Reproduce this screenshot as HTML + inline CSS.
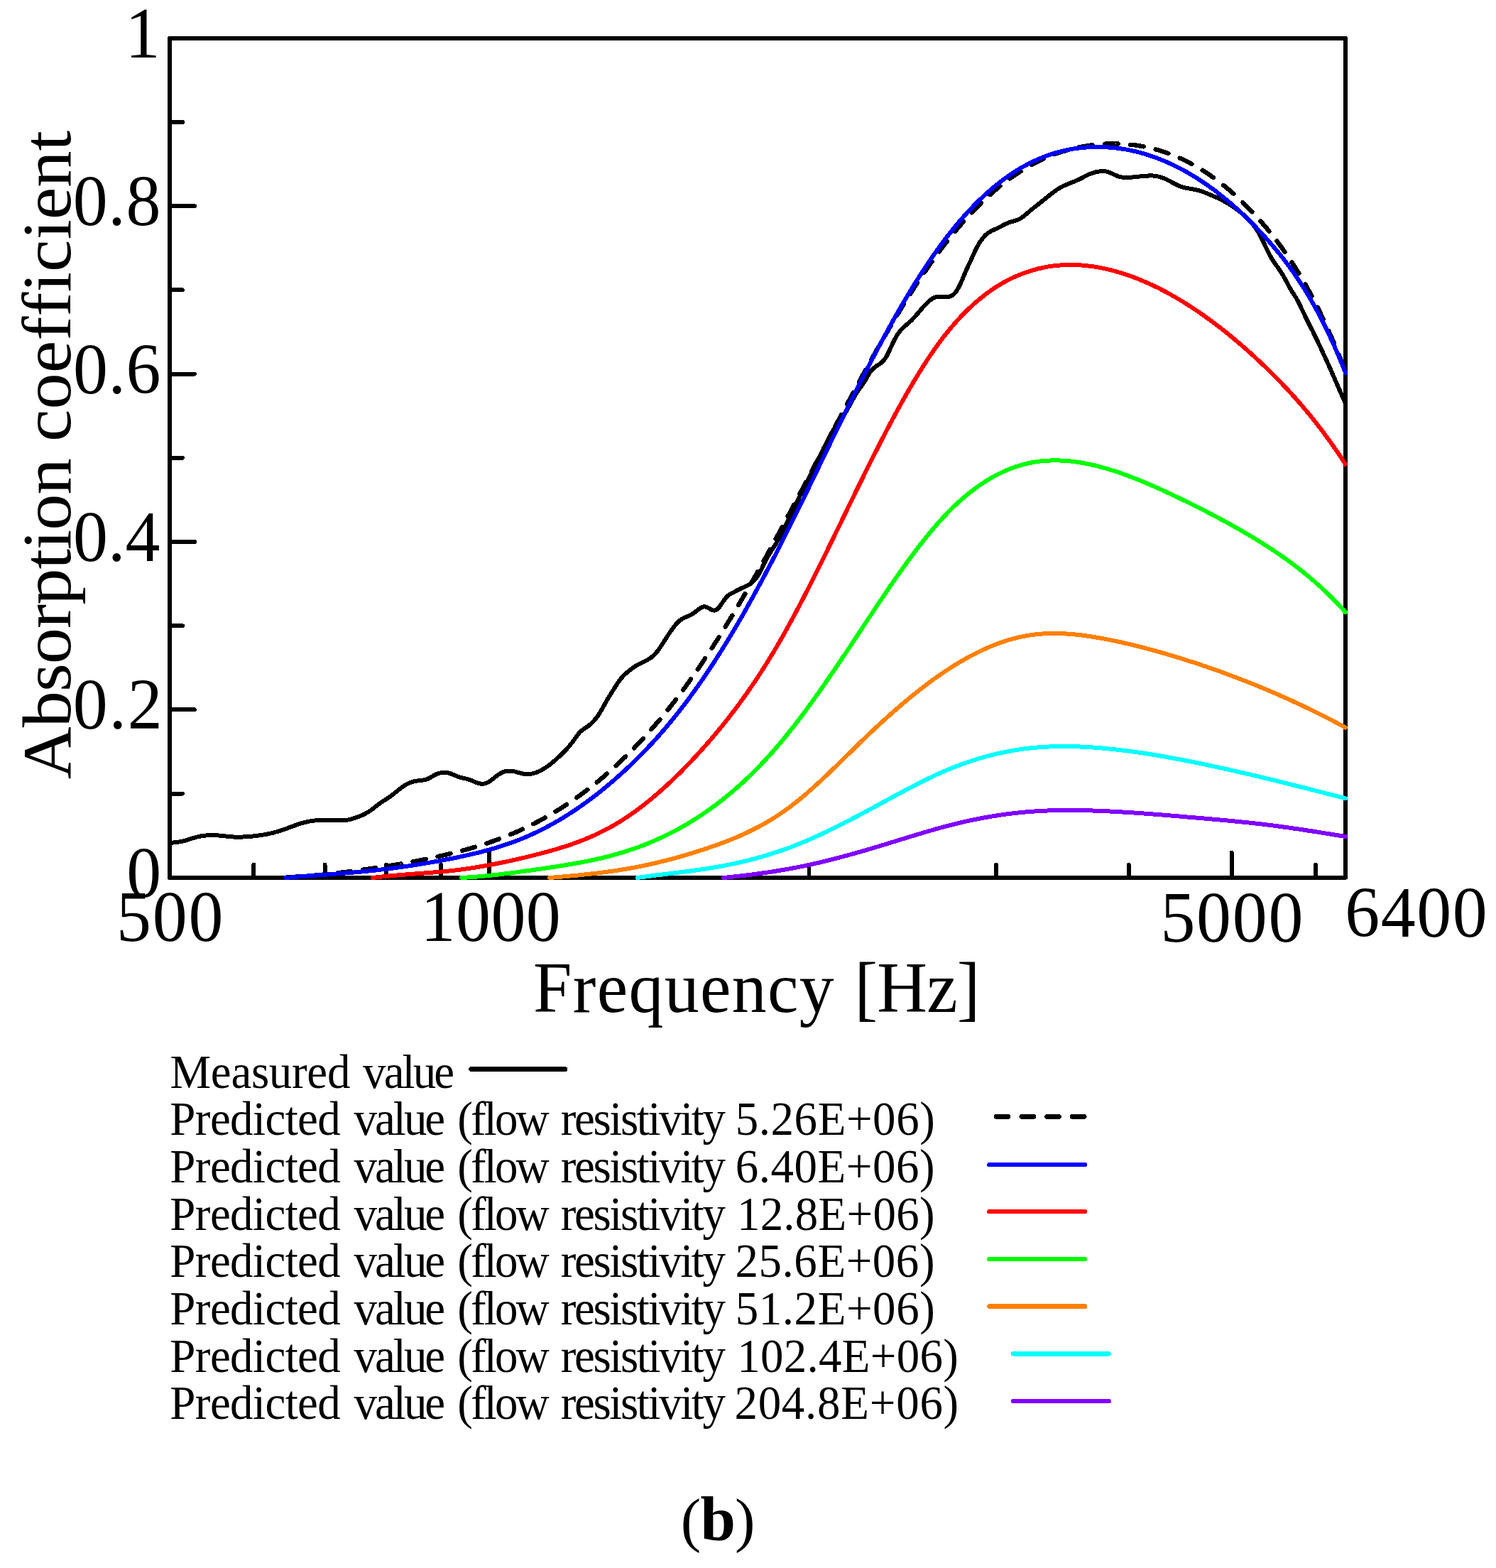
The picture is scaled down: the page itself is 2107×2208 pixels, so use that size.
<!DOCTYPE html>
<html lang="en"><head><meta charset="utf-8"><title>Absorption coefficient vs frequency (b)</title>
<style>html,body{margin:0;padding:0;background:#fff}body{width:2107px;height:2208px;overflow:hidden}svg{display:block}text{font-family:"Liberation Serif","Times New Roman",Times,serif;fill:#000;font-kerning:none;font-variant-ligatures:none;white-space:pre}.c{fill:none;stroke-linecap:round;stroke-linejoin:round;shape-rendering:crispEdges}</style></head><body>
<svg width="2107" height="2208" viewBox="0 0 2107 2208">
<rect width="2107" height="2208" fill="#fff"/>
<g class="c" stroke="#000" stroke-width="6.10">
<rect x="239.00" y="53.80" width="1656.00" height="1181.95"/>
<path stroke-width="5.90" d="M239.00 1117.56h18.00M239.00 999.36h35.00M239.00 881.16h18.00M239.00 762.97h35.00M239.00 644.77h18.00M239.00 526.58h35.00M239.00 408.38h18.00M239.00 290.19h35.00M239.00 171.99h18.00M357.43 1235.75v-18.00M457.56 1235.75v-18.00M544.29 1235.75v-18.00M620.80 1235.75v-18.00M689.24 1235.75v-35.00M1139.47 1235.75v-18.00M1402.84 1235.75v-18.00M1589.71 1235.75v-18.00M1734.65 1235.75v-35.00M1853.08 1235.75v-18.00"/>
</g>
<g class="c">
<path stroke="#000" stroke-width="6.00" d="M239.0 1188.0 L240.5 1187.4 L242.0 1187.0 L243.5 1186.6 L245.0 1186.3 L246.5 1186.1 L248.0 1185.9 L249.5 1185.7 L251.0 1185.6 L252.5 1185.4 L254.0 1185.2 L255.5 1184.9 L257.0 1184.6 L258.5 1184.3 L260.0 1183.9 L261.5 1183.4 L263.0 1183.0 L264.5 1182.5 L266.0 1182.1 L267.5 1181.6 L269.0 1181.1 L270.5 1180.6 L272.0 1180.2 L273.5 1179.7 L275.0 1179.3 L276.5 1178.9 L278.0 1178.5 L279.5 1178.2 L281.0 1177.8 L282.5 1177.5 L284.0 1177.3 L285.5 1177.0 L287.0 1176.8 L288.5 1176.6 L290.0 1176.5 L291.5 1176.3 L293.0 1176.2 L294.5 1176.1 L296.0 1176.1 L297.5 1176.1 L299.0 1176.0 L300.5 1176.1 L302.0 1176.1 L303.5 1176.2 L305.0 1176.2 L306.5 1176.4 L308.0 1176.5 L309.5 1176.6 L311.0 1176.8 L312.5 1176.9 L314.0 1177.1 L315.5 1177.3 L317.0 1177.4 L318.5 1177.6 L320.0 1177.8 L321.5 1177.9 L323.0 1178.1 L324.5 1178.2 L326.0 1178.3 L327.5 1178.4 L329.0 1178.5 L330.5 1178.6 L332.0 1178.6 L333.5 1178.6 L335.0 1178.7 L336.5 1178.6 L338.0 1178.6 L339.5 1178.6 L341.0 1178.6 L342.5 1178.5 L344.0 1178.4 L345.5 1178.3 L347.0 1178.2 L348.5 1178.1 L350.0 1178.0 L351.5 1177.9 L353.0 1177.8 L354.5 1177.6 L356.0 1177.5 L357.5 1177.3 L359.0 1177.1 L360.5 1176.9 L362.0 1176.8 L363.5 1176.6 L365.0 1176.4 L366.5 1176.2 L368.0 1175.9 L369.5 1175.7 L371.0 1175.5 L372.5 1175.2 L374.0 1174.9 L375.5 1174.7 L377.0 1174.4 L378.5 1174.1 L380.0 1173.8 L381.5 1173.4 L383.0 1173.1 L384.5 1172.7 L386.0 1172.3 L387.5 1171.9 L389.0 1171.5 L390.5 1171.1 L392.0 1170.6 L393.5 1170.1 L395.0 1169.7 L396.5 1169.2 L398.0 1168.7 L399.5 1168.2 L401.0 1167.6 L402.5 1167.1 L404.0 1166.6 L405.5 1166.0 L407.0 1165.5 L408.5 1164.9 L410.0 1164.3 L411.5 1163.8 L413.0 1163.2 L414.5 1162.7 L416.0 1162.1 L417.5 1161.6 L419.0 1161.1 L420.5 1160.6 L422.0 1160.1 L423.5 1159.6 L425.0 1159.2 L426.5 1158.8 L428.0 1158.3 L429.5 1158.0 L431.0 1157.6 L432.5 1157.2 L434.0 1156.9 L435.5 1156.6 L437.0 1156.3 L438.5 1156.1 L440.0 1155.9 L441.5 1155.7 L443.0 1155.5 L444.5 1155.3 L446.0 1155.2 L447.5 1155.1 L449.0 1155.0 L450.5 1154.9 L452.0 1154.8 L453.5 1154.8 L455.0 1154.8 L456.5 1154.7 L458.0 1154.7 L459.5 1154.8 L461.0 1154.8 L462.5 1154.8 L464.0 1154.9 L465.5 1154.9 L467.0 1155.0 L468.5 1155.0 L470.0 1155.1 L471.5 1155.1 L473.0 1155.2 L474.5 1155.2 L476.0 1155.3 L477.5 1155.3 L479.0 1155.3 L480.5 1155.3 L482.0 1155.3 L483.5 1155.2 L485.0 1155.1 L486.5 1155.0 L488.0 1154.8 L489.5 1154.6 L491.0 1154.3 L492.5 1154.0 L494.0 1153.7 L495.5 1153.3 L497.0 1152.8 L498.5 1152.3 L500.0 1151.8 L501.5 1151.3 L503.0 1150.8 L504.5 1150.2 L506.0 1149.6 L507.5 1149.0 L509.0 1148.4 L510.5 1147.7 L512.0 1147.0 L513.5 1146.3 L515.0 1145.5 L516.5 1144.6 L518.0 1143.8 L519.5 1142.8 L521.0 1141.8 L522.5 1140.8 L524.0 1139.7 L525.5 1138.5 L527.0 1137.4 L528.5 1136.2 L530.0 1135.0 L531.5 1133.9 L533.0 1132.7 L534.5 1131.6 L536.0 1130.5 L537.5 1129.5 L539.0 1128.5 L540.5 1127.5 L542.0 1126.6 L543.5 1125.6 L545.0 1124.7 L546.5 1123.7 L548.0 1122.7 L549.5 1121.6 L551.0 1120.5 L552.5 1119.4 L554.0 1118.2 L555.5 1117.0 L557.0 1115.8 L558.5 1114.6 L560.0 1113.4 L561.5 1112.2 L563.0 1111.0 L564.5 1109.9 L566.0 1108.8 L567.5 1107.7 L569.0 1106.7 L570.5 1105.8 L572.0 1104.9 L573.5 1104.1 L575.0 1103.3 L576.5 1102.6 L578.0 1102.0 L579.5 1101.4 L581.0 1100.9 L582.5 1100.5 L584.0 1100.2 L585.5 1099.9 L587.0 1099.6 L588.5 1099.4 L590.0 1099.2 L591.5 1099.1 L593.0 1098.9 L594.5 1098.7 L596.0 1098.5 L597.5 1098.2 L599.0 1097.9 L600.5 1097.5 L602.0 1097.0 L603.5 1096.3 L605.0 1095.6 L606.5 1094.7 L608.0 1093.8 L609.5 1092.9 L611.0 1092.1 L612.5 1091.2 L614.0 1090.5 L615.5 1089.8 L617.0 1089.2 L618.5 1088.8 L620.0 1088.5 L621.5 1088.2 L623.0 1088.1 L624.5 1088.0 L626.0 1087.9 L627.5 1088.0 L629.0 1088.1 L630.5 1088.3 L632.0 1088.6 L633.5 1089.0 L635.0 1089.5 L636.5 1090.1 L638.0 1090.7 L639.5 1091.3 L641.0 1092.0 L642.5 1092.6 L644.0 1093.2 L645.5 1093.8 L647.0 1094.3 L648.5 1094.8 L650.0 1095.2 L651.5 1095.5 L653.0 1095.8 L654.5 1096.1 L656.0 1096.5 L657.5 1096.8 L659.0 1097.2 L660.5 1097.7 L662.0 1098.2 L663.5 1098.8 L665.0 1099.4 L666.5 1100.1 L668.0 1100.7 L669.5 1101.4 L671.0 1102.0 L672.5 1102.5 L674.0 1103.0 L675.5 1103.3 L677.0 1103.6 L678.5 1103.8 L680.0 1103.8 L681.5 1103.6 L683.0 1103.3 L684.5 1102.8 L686.0 1102.2 L687.5 1101.5 L689.0 1100.6 L690.5 1099.7 L692.0 1098.6 L693.5 1097.4 L695.0 1096.2 L696.5 1095.0 L698.0 1093.8 L699.5 1092.6 L701.0 1091.5 L702.5 1090.5 L704.0 1089.6 L705.5 1088.8 L707.0 1088.0 L708.5 1087.3 L710.0 1086.8 L711.5 1086.3 L713.0 1085.9 L714.5 1085.7 L716.0 1085.5 L717.5 1085.5 L719.0 1085.5 L720.5 1085.7 L722.0 1085.9 L723.5 1086.1 L725.0 1086.5 L726.5 1086.9 L728.0 1087.3 L729.5 1087.7 L731.0 1088.1 L732.5 1088.6 L734.0 1088.9 L735.5 1089.3 L737.0 1089.6 L738.5 1089.8 L740.0 1090.0 L741.5 1090.1 L743.0 1090.1 L744.5 1090.0 L746.0 1089.9 L747.5 1089.7 L749.0 1089.5 L750.5 1089.2 L752.0 1088.8 L753.5 1088.4 L755.0 1087.9 L756.5 1087.3 L758.0 1086.7 L759.5 1086.0 L761.0 1085.3 L762.5 1084.5 L764.0 1083.7 L765.5 1082.8 L767.0 1081.9 L768.5 1080.9 L770.0 1079.9 L771.5 1078.9 L773.0 1077.8 L774.5 1076.6 L776.0 1075.4 L777.5 1074.2 L779.0 1072.9 L780.5 1071.7 L782.0 1070.3 L783.5 1069.0 L785.0 1067.6 L786.5 1066.2 L788.0 1064.9 L789.5 1063.4 L791.0 1062.0 L792.5 1060.5 L794.0 1059.0 L795.5 1057.5 L797.0 1055.9 L798.5 1054.3 L800.0 1052.6 L801.5 1050.9 L803.0 1049.1 L804.5 1047.2 L806.0 1045.3 L807.5 1043.3 L809.0 1041.2 L810.5 1039.1 L812.0 1037.0 L813.5 1034.9 L815.0 1033.0 L816.5 1031.2 L818.0 1029.8 L819.5 1028.5 L821.0 1027.4 L822.5 1026.3 L824.0 1025.4 L825.5 1024.4 L827.0 1023.4 L828.5 1022.3 L830.0 1021.1 L831.5 1019.8 L833.0 1018.5 L834.5 1017.0 L836.0 1015.4 L837.5 1013.8 L839.0 1012.0 L840.5 1010.1 L842.0 1008.0 L843.5 1005.8 L845.0 1003.4 L846.5 1000.9 L848.0 998.3 L849.5 995.6 L851.0 992.9 L852.5 990.2 L854.0 987.5 L855.5 984.9 L857.0 982.4 L858.5 980.0 L860.0 977.6 L861.5 975.2 L863.0 972.8 L864.5 970.5 L866.0 968.1 L867.5 965.7 L869.0 963.3 L870.5 961.1 L872.0 958.9 L873.5 956.9 L875.0 955.0 L876.5 953.3 L878.0 951.7 L879.5 950.2 L881.0 948.8 L882.5 947.5 L884.0 946.2 L885.5 945.0 L887.0 943.8 L888.5 942.6 L890.0 941.5 L891.5 940.4 L893.0 939.4 L894.5 938.4 L896.0 937.5 L897.5 936.6 L899.0 935.8 L900.5 935.0 L902.0 934.2 L903.5 933.5 L905.0 932.7 L906.5 932.0 L908.0 931.3 L909.5 930.5 L911.0 929.7 L912.5 928.9 L914.0 927.9 L915.5 927.0 L917.0 925.9 L918.5 924.7 L920.0 923.4 L921.5 922.0 L923.0 920.4 L924.5 918.7 L926.0 916.9 L927.5 914.9 L929.0 912.8 L930.5 910.6 L932.0 908.3 L933.5 906.0 L935.0 903.6 L936.5 901.2 L938.0 898.9 L939.5 896.6 L941.0 894.3 L942.5 892.0 L944.0 889.8 L945.5 887.7 L947.0 885.6 L948.5 883.5 L950.0 881.6 L951.5 879.7 L953.0 878.0 L954.5 876.4 L956.0 874.9 L957.5 873.7 L959.0 872.6 L960.5 871.6 L962.0 870.8 L963.5 870.1 L965.0 869.4 L966.5 868.8 L968.0 868.1 L969.5 867.5 L971.0 866.8 L972.5 866.1 L974.0 865.3 L975.5 864.4 L977.0 863.4 L978.5 862.3 L980.0 861.1 L981.5 859.9 L983.0 858.7 L984.5 857.6 L986.0 856.6 L987.5 855.7 L989.0 855.0 L990.5 854.5 L992.0 854.3 L993.5 854.4 L995.0 854.8 L996.5 855.4 L998.0 856.2 L999.5 857.1 L1001.0 858.0 L1002.5 858.7 L1004.0 859.3 L1005.5 859.6 L1007.0 859.5 L1008.5 859.0 L1010.0 858.1 L1011.5 856.7 L1013.0 854.9 L1014.5 852.9 L1016.0 850.7 L1017.5 848.5 L1019.0 846.3 L1020.5 844.2 L1022.0 842.3 L1023.5 840.5 L1025.0 839.1 L1026.5 837.9 L1028.0 836.9 L1029.5 836.0 L1031.0 835.3 L1032.5 834.5 L1034.0 833.7 L1035.5 832.9 L1037.0 832.1 L1038.5 831.3 L1040.0 830.5 L1041.5 829.7 L1043.0 829.0 L1044.5 828.3 L1046.0 827.6 L1047.5 826.9 L1049.0 826.3 L1050.5 825.6 L1052.0 824.9 L1053.5 824.1 L1055.0 823.2 L1056.5 822.3 L1058.0 821.2 L1059.5 820.0 L1061.0 818.6 L1062.5 817.1 L1064.0 815.4 L1065.5 813.5 L1067.0 811.3 L1068.5 808.9 L1070.0 806.2 L1071.5 803.3 L1073.0 800.3 L1074.5 797.1 L1076.0 794.0 L1077.5 791.0 L1079.0 788.1 L1080.5 785.4 L1082.0 782.8 L1083.5 780.3 L1085.0 777.9 L1086.5 775.6 L1088.0 773.2 L1089.5 770.9 L1091.0 768.5 L1092.5 766.1 L1094.0 763.5 L1095.5 760.9 L1097.0 758.1 L1098.5 755.3 L1100.0 752.4 L1101.5 749.4 L1103.0 746.4 L1104.5 743.4 L1106.0 740.4 L1107.5 737.3 L1109.0 734.3 L1110.5 731.3 L1112.0 728.2 L1113.5 725.2 L1115.0 722.2 L1116.5 719.1 L1118.0 716.1 L1119.5 713.0 L1121.0 710.0 L1122.5 706.9 L1124.0 703.9 L1125.5 700.8 L1127.0 697.7 L1128.5 694.6 L1130.0 691.6 L1131.5 688.5 L1133.0 685.5 L1134.5 682.4 L1136.0 679.4 L1137.5 676.3 L1139.0 673.3 L1140.5 670.3 L1142.0 667.3 L1143.5 664.3 L1145.0 661.3 L1146.5 658.4 L1148.0 655.4 L1149.5 652.4 L1151.0 649.5 L1152.5 646.5 L1154.0 643.5 L1155.5 640.5 L1157.0 637.5 L1158.5 634.5 L1160.0 631.5 L1161.5 628.4 L1163.0 625.4 L1164.5 622.3 L1166.0 619.4 L1167.5 616.4 L1169.0 613.6 L1170.5 610.9 L1172.0 608.3 L1173.5 605.9 L1175.0 603.6 L1176.5 601.4 L1178.0 599.3 L1179.5 597.2 L1181.0 595.2 L1182.5 593.2 L1184.0 591.2 L1185.5 589.1 L1187.0 586.9 L1188.5 584.7 L1190.0 582.3 L1191.5 579.8 L1193.0 577.2 L1194.5 574.6 L1196.0 571.9 L1197.5 569.1 L1199.0 566.4 L1200.5 563.7 L1202.0 561.0 L1203.5 558.4 L1205.0 555.8 L1206.5 553.4 L1208.0 551.1 L1209.5 548.9 L1211.0 546.8 L1212.5 544.7 L1214.0 542.7 L1215.5 540.5 L1217.0 538.2 L1218.5 535.8 L1220.0 533.2 L1221.5 530.6 L1223.0 527.9 L1224.5 525.5 L1226.0 523.3 L1227.5 521.5 L1229.0 519.9 L1230.5 518.5 L1232.0 517.3 L1233.5 516.2 L1235.0 515.1 L1236.5 514.2 L1238.0 513.2 L1239.5 512.1 L1241.0 511.0 L1242.5 509.7 L1244.0 508.1 L1245.5 506.4 L1247.0 504.3 L1248.5 501.8 L1250.0 499.1 L1251.5 496.0 L1253.0 492.9 L1254.5 489.6 L1256.0 486.3 L1257.5 483.1 L1259.0 480.0 L1260.5 477.1 L1262.0 474.4 L1263.5 471.9 L1265.0 469.6 L1266.5 467.6 L1268.0 465.7 L1269.5 464.0 L1271.0 462.5 L1272.5 461.0 L1274.0 459.7 L1275.5 458.3 L1277.0 457.1 L1278.5 455.8 L1280.0 454.5 L1281.5 453.2 L1283.0 451.8 L1284.5 450.3 L1286.0 448.7 L1287.5 447.1 L1289.0 445.5 L1290.5 443.8 L1292.0 442.0 L1293.5 440.3 L1295.0 438.5 L1296.5 436.7 L1298.0 435.0 L1299.5 433.2 L1301.0 431.5 L1302.5 429.9 L1304.0 428.3 L1305.5 426.8 L1307.0 425.3 L1308.5 424.0 L1310.0 422.8 L1311.5 421.7 L1313.0 420.7 L1314.5 419.8 L1316.0 419.1 L1317.5 418.5 L1319.0 418.1 L1320.5 417.7 L1322.0 417.5 L1323.5 417.5 L1325.0 417.5 L1326.5 417.6 L1328.0 417.7 L1329.5 417.8 L1331.0 418.0 L1332.5 418.0 L1334.0 418.0 L1335.5 417.9 L1337.0 417.6 L1338.5 417.2 L1340.0 416.5 L1341.5 415.7 L1343.0 414.5 L1344.5 413.1 L1346.0 411.3 L1347.5 409.2 L1349.0 406.8 L1350.5 404.0 L1352.0 401.1 L1353.5 397.8 L1355.0 394.4 L1356.5 390.8 L1358.0 387.2 L1359.5 383.7 L1361.0 380.2 L1362.5 376.9 L1364.0 373.7 L1365.5 370.5 L1367.0 367.3 L1368.5 364.1 L1370.0 360.7 L1371.5 357.4 L1373.0 354.1 L1374.5 351.0 L1376.0 348.1 L1377.5 345.3 L1379.0 342.7 L1380.5 340.4 L1382.0 338.2 L1383.5 336.2 L1385.0 334.4 L1386.5 332.7 L1388.0 331.2 L1389.5 329.8 L1391.0 328.6 L1392.5 327.5 L1394.0 326.5 L1395.5 325.7 L1397.0 324.9 L1398.5 324.2 L1400.0 323.5 L1401.5 322.8 L1403.0 322.2 L1404.5 321.5 L1406.0 320.8 L1407.5 320.0 L1409.0 319.2 L1410.5 318.4 L1412.0 317.6 L1413.5 316.8 L1415.0 316.0 L1416.5 315.3 L1418.0 314.6 L1419.5 313.9 L1421.0 313.4 L1422.5 312.9 L1424.0 312.4 L1425.5 312.0 L1427.0 311.6 L1428.5 311.2 L1430.0 310.7 L1431.5 310.2 L1433.0 309.7 L1434.5 309.0 L1436.0 308.3 L1437.5 307.5 L1439.0 306.5 L1440.5 305.5 L1442.0 304.3 L1443.5 303.1 L1445.0 301.8 L1446.5 300.5 L1448.0 299.2 L1449.5 297.9 L1451.0 296.7 L1452.5 295.4 L1454.0 294.2 L1455.5 293.0 L1457.0 291.8 L1458.5 290.6 L1460.0 289.5 L1461.5 288.3 L1463.0 287.1 L1464.5 285.9 L1466.0 284.7 L1467.5 283.5 L1469.0 282.3 L1470.5 281.1 L1472.0 279.9 L1473.5 278.7 L1475.0 277.5 L1476.5 276.3 L1478.0 275.1 L1479.5 273.9 L1481.0 272.7 L1482.5 271.5 L1484.0 270.4 L1485.5 269.3 L1487.0 268.2 L1488.5 267.2 L1490.0 266.2 L1491.5 265.3 L1493.0 264.5 L1494.5 263.6 L1496.0 262.8 L1497.5 262.1 L1499.0 261.4 L1500.5 260.7 L1502.0 260.0 L1503.5 259.4 L1505.0 258.8 L1506.5 258.1 L1508.0 257.5 L1509.5 257.0 L1511.0 256.4 L1512.5 255.8 L1514.0 255.2 L1515.5 254.5 L1517.0 253.9 L1518.5 253.2 L1520.0 252.5 L1521.5 251.8 L1523.0 251.0 L1524.5 250.2 L1526.0 249.4 L1527.5 248.6 L1529.0 247.8 L1530.5 247.1 L1532.0 246.3 L1533.5 245.6 L1535.0 245.0 L1536.5 244.4 L1538.0 243.9 L1539.5 243.4 L1541.0 243.0 L1542.5 242.6 L1544.0 242.2 L1545.5 241.9 L1547.0 241.6 L1548.5 241.4 L1550.0 241.2 L1551.5 241.1 L1553.0 241.1 L1554.5 241.1 L1556.0 241.2 L1557.5 241.4 L1559.0 241.7 L1560.5 242.2 L1562.0 242.7 L1563.5 243.3 L1565.0 243.9 L1566.5 244.6 L1568.0 245.3 L1569.5 246.0 L1571.0 246.7 L1572.5 247.3 L1574.0 247.9 L1575.5 248.4 L1577.0 248.8 L1578.5 249.2 L1580.0 249.5 L1581.5 249.7 L1583.0 249.9 L1584.5 250.0 L1586.0 250.0 L1587.5 250.0 L1589.0 250.0 L1590.5 249.9 L1592.0 249.8 L1593.5 249.6 L1595.0 249.5 L1596.5 249.4 L1598.0 249.2 L1599.5 249.1 L1601.0 248.9 L1602.5 248.7 L1604.0 248.6 L1605.5 248.4 L1607.0 248.3 L1608.5 248.1 L1610.0 248.0 L1611.5 247.9 L1613.0 247.7 L1614.5 247.6 L1616.0 247.5 L1617.5 247.5 L1619.0 247.4 L1620.5 247.4 L1622.0 247.4 L1623.5 247.5 L1625.0 247.6 L1626.5 247.7 L1628.0 247.9 L1629.5 248.2 L1631.0 248.5 L1632.5 248.8 L1634.0 249.2 L1635.5 249.7 L1637.0 250.2 L1638.5 250.8 L1640.0 251.4 L1641.5 252.1 L1643.0 252.8 L1644.5 253.5 L1646.0 254.3 L1647.5 255.0 L1649.0 255.9 L1650.5 256.7 L1652.0 257.5 L1653.5 258.3 L1655.0 259.1 L1656.5 259.8 L1658.0 260.6 L1659.5 261.3 L1661.0 261.9 L1662.5 262.5 L1664.0 263.0 L1665.5 263.5 L1667.0 263.9 L1668.5 264.3 L1670.0 264.6 L1671.5 264.9 L1673.0 265.2 L1674.5 265.4 L1676.0 265.7 L1677.5 265.9 L1679.0 266.2 L1680.5 266.5 L1682.0 266.7 L1683.5 267.0 L1685.0 267.4 L1686.5 267.7 L1688.0 268.1 L1689.5 268.6 L1691.0 269.0 L1692.5 269.5 L1694.0 270.1 L1695.5 270.6 L1697.0 271.2 L1698.5 271.8 L1700.0 272.4 L1701.5 273.0 L1703.0 273.7 L1704.5 274.3 L1706.0 274.9 L1707.5 275.6 L1709.0 276.2 L1710.5 276.8 L1712.0 277.5 L1713.5 278.2 L1715.0 278.8 L1716.5 279.5 L1718.0 280.3 L1719.5 281.0 L1721.0 281.8 L1722.5 282.5 L1724.0 283.4 L1725.5 284.2 L1727.0 285.0 L1728.5 285.9 L1730.0 286.8 L1731.5 287.8 L1733.0 288.7 L1734.5 289.7 L1736.0 290.7 L1737.5 291.7 L1739.0 292.7 L1740.5 293.8 L1742.0 294.9 L1743.5 296.0 L1745.0 297.1 L1746.5 298.3 L1748.0 299.6 L1749.5 300.8 L1751.0 302.1 L1752.5 303.5 L1754.0 304.9 L1755.5 306.3 L1757.0 307.8 L1758.5 309.3 L1760.0 310.9 L1761.5 312.6 L1763.0 314.3 L1764.5 316.1 L1766.0 318.0 L1767.5 320.0 L1769.0 322.1 L1770.5 324.3 L1772.0 326.7 L1773.5 329.2 L1775.0 332.0 L1776.5 334.8 L1778.0 337.9 L1779.5 340.9 L1781.0 344.1 L1782.5 347.3 L1784.0 350.4 L1785.5 353.5 L1787.0 356.5 L1788.5 359.4 L1790.0 362.1 L1791.5 364.7 L1793.0 367.1 L1794.5 369.3 L1796.0 371.5 L1797.5 373.6 L1799.0 375.7 L1800.5 377.8 L1802.0 380.0 L1803.5 382.2 L1805.0 384.5 L1806.5 386.9 L1808.0 389.5 L1809.5 392.2 L1811.0 395.0 L1812.5 397.7 L1814.0 400.5 L1815.5 403.3 L1817.0 406.0 L1818.5 408.6 L1820.0 411.1 L1821.5 413.4 L1823.0 415.6 L1824.5 417.9 L1826.0 420.4 L1827.5 423.1 L1829.0 426.0 L1830.5 429.0 L1832.0 432.1 L1833.5 435.3 L1835.0 438.5 L1836.5 441.6 L1838.0 444.8 L1839.5 447.9 L1841.0 450.9 L1842.5 453.9 L1844.0 456.9 L1845.5 459.8 L1847.0 462.8 L1848.5 465.7 L1850.0 468.8 L1851.5 471.8 L1853.0 474.9 L1854.5 478.0 L1856.0 481.1 L1857.5 484.3 L1859.0 487.5 L1860.5 490.7 L1862.0 493.9 L1863.5 497.2 L1865.0 500.4 L1866.5 503.7 L1868.0 506.9 L1869.5 510.2 L1871.0 513.5 L1872.5 516.9 L1874.0 520.2 L1875.5 523.6 L1877.0 527.1 L1878.5 530.5 L1880.0 534.0 L1881.5 537.4 L1883.0 540.9 L1884.5 544.4 L1886.0 547.8 L1887.5 551.2 L1889.0 554.7 L1890.5 558.1 L1892.0 561.4 L1893.5 564.7 L1895.0 568.0"/>
<path stroke="#000" stroke-width="6.40" d="M376.0 1235.8 L376.5 1235.8 L379.5 1235.8 L382.5 1235.8 L385.5 1235.8 L386.8 1235.8M404.0 1235.4 L404.5 1235.3 L407.5 1235.2 L410.5 1235.1 L413.5 1234.9 L416.5 1234.7 L419.5 1234.5 L422.5 1234.3 L422.6 1234.3M439.8 1233.0 L440.0 1233.0 L443.0 1232.7 L446.0 1232.4 L449.0 1232.2 L452.0 1231.9 L455.0 1231.6 L458.0 1231.3 L458.3 1231.2M475.4 1229.3 L475.5 1229.3 L478.5 1229.0 L481.5 1228.6 L484.5 1228.2 L487.5 1227.9 L490.5 1227.5 L493.5 1227.1 L493.8 1227.1M510.9 1224.8 L511.0 1224.8 L514.0 1224.4 L517.0 1223.9 L520.0 1223.5 L523.0 1223.1 L526.0 1222.6 L529.0 1222.2 L529.3 1222.2M546.3 1219.5 L546.5 1219.5 L549.5 1219.0 L552.5 1218.5 L555.5 1218.0 L558.5 1217.5 L561.5 1217.0 L564.5 1216.5 L564.6 1216.4M581.5 1213.4 L581.5 1213.4 L584.5 1212.8 L587.5 1212.2 L590.5 1211.6 L593.5 1211.0 L596.5 1210.4 L599.5 1209.8 L599.7 1209.8M616.5 1206.2 L617.0 1206.1 L620.0 1205.4 L623.0 1204.8 L626.0 1204.1 L629.0 1203.4 L632.0 1202.6 L634.6 1202.0M651.2 1197.8 L651.5 1197.7 L654.5 1196.9 L657.5 1196.1 L660.5 1195.2 L663.5 1194.4 L666.5 1193.5 L669.1 1192.7M685.5 1187.6 L685.5 1187.6 L688.5 1186.6 L691.5 1185.5 L694.5 1184.5 L697.5 1183.4 L700.5 1182.3 L703.0 1181.4M718.9 1175.1 L719.0 1175.1 L722.0 1173.8 L725.0 1172.6 L728.0 1171.3 L731.0 1169.9 L734.0 1168.6 L735.9 1167.7M751.3 1160.2 L751.5 1160.1 L754.5 1158.6 L757.5 1157.0 L760.5 1155.4 L763.5 1153.8 L766.5 1152.1 L767.7 1151.4M782.5 1142.8 L782.5 1142.8 L785.5 1140.9 L788.5 1139.1 L791.5 1137.2 L794.5 1135.2 L797.5 1133.3 L798.2 1132.8M812.3 1123.2 L812.5 1123.0 L815.5 1120.9 L818.5 1118.7 L821.5 1116.5 L824.5 1114.2 L827.3 1112.1M840.7 1101.5 L841.0 1101.3 L844.0 1098.8 L847.0 1096.3 L850.0 1093.8 L853.0 1091.2 L854.9 1089.6M867.6 1078.2 L868.0 1077.8 L871.0 1075.1 L874.0 1072.2 L877.0 1069.4 L880.0 1066.5 L881.1 1065.4M893.2 1053.3 L893.5 1053.0 L896.5 1049.9 L899.5 1046.7 L902.5 1043.6 L905.5 1040.3 L906.0 1039.8M917.4 1027.1 L917.5 1027.0 L920.5 1023.6 L923.5 1020.1 L926.5 1016.6 L929.5 1013.0 L929.5 1013.0M940.4 999.8 L940.5 999.6 L943.5 995.9 L946.5 992.1 L949.5 988.2 L951.9 985.1M962.1 971.5 L962.5 971.0 L965.5 966.9 L968.5 962.8 L971.5 958.6 L973.0 956.4M982.8 942.4 L983.0 942.2 L986.0 937.8 L989.0 933.3 L992.0 928.9 L993.2 927.0M1002.6 912.7 L1003.0 912.1 L1006.0 907.5 L1009.0 902.8 L1012.0 898.1 L1012.6 897.1M1021.7 882.6 L1022.0 882.0 L1025.0 877.1 L1028.0 872.2 L1031.0 867.3 L1031.4 866.7M1040.1 852.0 L1040.5 851.4 L1043.5 846.3 L1046.5 841.2 L1049.5 836.0 L1049.5 836.0M1058.1 821.2 L1058.5 820.4 L1061.5 815.1 L1064.5 809.8 L1067.2 805.0M1075.6 790.1 L1076.0 789.3 L1079.0 783.9 L1082.0 778.4 L1084.5 773.8M1092.7 758.7 L1093.0 758.2 L1096.0 752.7 L1099.0 747.1 L1101.6 742.4M1109.6 727.3 L1110.0 726.6 L1113.0 720.9 L1116.0 715.3 L1118.4 710.8M1126.4 695.7 L1126.5 695.4 L1129.5 689.7 L1132.5 684.0 L1135.0 679.2M1143.0 664.1 L1143.0 664.0 L1146.0 658.3 L1149.0 652.6 L1151.6 647.6M1159.6 632.4 L1160.0 631.6 L1163.0 625.9 L1166.0 620.2 L1168.2 615.9M1176.3 600.7 L1176.5 600.3 L1179.5 594.6 L1182.5 588.9 L1185.0 584.3M1193.0 569.1 L1193.5 568.3 L1196.5 562.7 L1199.5 557.1 L1201.8 552.7M1210.0 537.6 L1210.5 536.8 L1213.5 531.3 L1216.5 525.8 L1219.0 521.3M1227.3 506.3 L1227.5 505.9 L1230.5 500.6 L1233.5 495.3 L1236.4 490.0M1245.0 475.1 L1245.5 474.2 L1248.5 469.1 L1251.5 463.9 L1254.4 459.0M1263.2 444.2 L1263.5 443.7 L1266.5 438.8 L1269.5 433.9 L1272.5 429.0 L1272.9 428.3M1282.1 413.7 L1282.5 413.0 L1285.5 408.4 L1288.5 403.7 L1291.5 399.1 L1292.2 398.1M1301.8 383.7 L1302.0 383.4 L1305.0 379.1 L1308.0 374.8 L1311.0 370.5 L1312.5 368.5M1322.7 354.5 L1323.0 354.0 L1326.0 350.0 L1329.0 346.1 L1332.0 342.2 L1334.0 339.7M1344.9 326.2 L1345.0 326.1 L1348.0 322.5 L1351.0 319.0 L1354.0 315.5 L1357.0 312.1M1368.7 299.3 L1369.0 299.0 L1372.0 295.8 L1375.0 292.8 L1378.0 289.7 L1381.0 286.8 L1381.7 286.0M1394.4 274.1 L1394.5 274.1 L1397.5 271.4 L1400.5 268.8 L1403.5 266.2 L1406.5 263.7 L1408.5 262.0M1422.3 251.4 L1422.5 251.3 L1425.5 249.2 L1428.5 247.1 L1431.5 245.0 L1434.5 243.0 L1437.5 241.1 L1437.7 241.0M1452.7 232.1 L1453.0 232.0 L1456.0 230.4 L1459.0 228.8 L1462.0 227.3 L1465.0 225.8 L1468.0 224.4 L1469.4 223.8M1485.5 217.2 L1486.0 217.0 L1489.0 215.9 L1492.0 214.9 L1495.0 213.9 L1498.0 213.0 L1501.0 212.1 L1503.2 211.4M1520.2 207.3 L1520.5 207.3 L1523.5 206.7 L1526.5 206.1 L1529.5 205.6 L1532.5 205.1 L1535.5 204.7 L1538.5 204.3 L1538.6 204.3M1556.0 202.8 L1556.5 202.7 L1559.5 202.6 L1562.5 202.5 L1565.5 202.5 L1568.5 202.4 L1571.5 202.5 L1574.5 202.5 L1574.6 202.5M1592.2 203.7 L1592.5 203.7 L1595.5 204.0 L1598.5 204.4 L1601.5 204.8 L1604.5 205.3 L1607.5 205.8 L1610.5 206.4 L1610.6 206.4M1627.7 210.3 L1628.0 210.4 L1631.0 211.3 L1634.0 212.2 L1637.0 213.1 L1640.0 214.1 L1643.0 215.1 L1645.4 216.0M1661.7 222.6 L1662.0 222.7 L1665.0 224.1 L1668.0 225.5 L1671.0 227.0 L1674.0 228.5 L1677.0 230.1 L1678.4 230.9M1693.7 239.8 L1694.0 240.0 L1697.0 241.9 L1700.0 243.9 L1703.0 245.9 L1706.0 248.0 L1709.0 250.1 L1709.1 250.2M1723.2 260.9 L1723.5 261.1 L1726.5 263.6 L1729.5 266.1 L1732.5 268.6 L1735.5 271.2 L1737.4 272.9M1750.4 285.0 L1750.5 285.1 L1753.5 288.1 L1756.5 291.1 L1759.5 294.1 L1762.5 297.3 L1763.4 298.2M1775.4 311.4 L1775.5 311.5 L1778.5 315.0 L1781.5 318.5 L1784.5 322.0 L1787.4 325.6M1798.4 339.6 L1798.5 339.7 L1801.5 343.7 L1804.5 347.7 L1807.5 351.9 L1809.4 354.6M1819.4 369.3 L1819.5 369.4 L1822.5 374.1 L1825.5 378.8 L1828.5 383.7 L1829.4 385.1M1838.4 400.5 L1838.5 400.6 L1841.5 405.9 L1844.5 411.4 L1847.4 416.8M1855.6 432.7 L1856.0 433.5 L1859.0 439.5 L1862.0 445.8 L1863.8 449.5M1871.3 465.8 L1871.5 466.4 L1874.5 473.2 L1877.5 480.2 L1878.7 482.9M1885.5 499.6 L1886.0 500.8 L1889.0 508.3 L1892.0 516.1 L1892.3 516.9"/>
<path stroke="#0000ff" stroke-width="6.00" d="M402.5 1235.8 L404.5 1235.8 L406.5 1235.6 L408.5 1235.5 L410.5 1235.3 L412.5 1235.1 L414.5 1235.0 L416.5 1234.8 L418.5 1234.6 L420.5 1234.5 L422.5 1234.3 L424.5 1234.2 L426.5 1234.0 L428.5 1233.8 L430.5 1233.7 L432.5 1233.5 L434.5 1233.4 L436.5 1233.2 L438.5 1233.1 L440.5 1232.9 L442.5 1232.8 L444.5 1232.6 L446.5 1232.5 L448.5 1232.3 L450.5 1232.2 L452.4 1232.0 L454.4 1231.9 L456.4 1231.8 L458.4 1231.6 L460.4 1231.5 L462.4 1231.3 L464.4 1231.2 L466.4 1231.0 L468.4 1230.9 L470.4 1230.7 L472.4 1230.6 L474.4 1230.4 L476.4 1230.3 L478.4 1230.1 L480.4 1229.9 L482.4 1229.8 L484.4 1229.6 L486.4 1229.5 L488.4 1229.3 L490.4 1229.1 L492.4 1229.0 L494.4 1228.8 L496.4 1228.6 L498.4 1228.5 L500.4 1228.3 L502.4 1228.1 L504.4 1227.9 L506.4 1227.8 L508.4 1227.6 L510.4 1227.4 L512.4 1227.2 L514.4 1227.0 L516.4 1226.8 L518.4 1226.6 L520.4 1226.4 L522.4 1226.2 L524.4 1226.0 L526.4 1225.8 L528.4 1225.5 L530.4 1225.3 L532.4 1225.1 L534.4 1224.9 L536.4 1224.6 L538.4 1224.4 L540.4 1224.2 L542.4 1223.9 L544.4 1223.7 L546.4 1223.4 L548.4 1223.2 L550.4 1222.9 L552.3 1222.7 L554.3 1222.4 L556.3 1222.2 L558.3 1221.9 L560.3 1221.6 L562.3 1221.3 L564.3 1221.1 L566.3 1220.8 L568.3 1220.5 L570.3 1220.2 L572.3 1219.9 L574.3 1219.6 L576.3 1219.3 L578.3 1219.0 L580.3 1218.7 L582.3 1218.4 L584.3 1218.1 L586.3 1217.8 L588.3 1217.5 L590.3 1217.2 L592.3 1216.8 L594.3 1216.5 L596.3 1216.2 L598.3 1215.8 L600.3 1215.5 L602.3 1215.2 L604.3 1214.8 L606.3 1214.5 L608.3 1214.1 L610.3 1213.8 L612.3 1213.4 L614.3 1213.1 L616.3 1212.7 L618.3 1212.3 L620.3 1212.0 L622.3 1211.6 L624.3 1211.2 L626.3 1210.8 L628.3 1210.4 L630.3 1210.1 L632.3 1209.7 L634.3 1209.3 L636.3 1208.9 L638.3 1208.5 L640.3 1208.1 L642.3 1207.7 L644.3 1207.3 L646.3 1206.9 L648.3 1206.4 L650.3 1206.0 L652.2 1205.6 L654.2 1205.1 L656.2 1204.7 L658.2 1204.3 L660.2 1203.8 L662.2 1203.3 L664.2 1202.9 L666.2 1202.4 L668.2 1201.9 L670.2 1201.5 L672.2 1201.0 L674.2 1200.5 L676.2 1200.0 L678.2 1199.5 L680.2 1198.9 L682.2 1198.4 L684.2 1197.9 L686.2 1197.3 L688.2 1196.8 L690.2 1196.2 L692.2 1195.6 L694.2 1195.1 L696.2 1194.5 L698.2 1193.9 L700.2 1193.3 L702.2 1192.7 L704.2 1192.0 L706.2 1191.4 L708.2 1190.7 L710.2 1190.1 L712.2 1189.4 L714.2 1188.7 L716.2 1188.1 L718.2 1187.4 L720.2 1186.6 L722.2 1185.9 L724.2 1185.2 L726.2 1184.4 L728.2 1183.7 L730.2 1182.9 L732.2 1182.1 L734.2 1181.3 L736.2 1180.5 L738.2 1179.7 L740.2 1178.8 L742.2 1178.0 L744.2 1177.1 L746.2 1176.2 L748.2 1175.3 L750.2 1174.4 L752.1 1173.5 L754.1 1172.6 L756.1 1171.6 L758.1 1170.7 L760.1 1169.7 L762.1 1168.7 L764.1 1167.7 L766.1 1166.7 L768.1 1165.6 L770.1 1164.6 L772.1 1163.5 L774.1 1162.4 L776.1 1161.3 L778.1 1160.2 L780.1 1159.1 L782.1 1158.0 L784.1 1156.8 L786.1 1155.7 L788.1 1154.5 L790.1 1153.3 L792.1 1152.1 L794.1 1150.9 L796.1 1149.6 L798.1 1148.4 L800.1 1147.1 L802.1 1145.8 L804.1 1144.5 L806.1 1143.2 L808.1 1141.9 L810.1 1140.6 L812.1 1139.2 L814.1 1137.9 L816.1 1136.5 L818.1 1135.1 L820.1 1133.7 L822.1 1132.3 L824.1 1130.8 L826.1 1129.4 L828.1 1127.9 L830.1 1126.4 L832.1 1125.0 L834.1 1123.5 L836.1 1121.9 L838.1 1120.4 L840.1 1118.9 L842.1 1117.3 L844.1 1115.7 L846.1 1114.1 L848.1 1112.5 L850.1 1110.9 L852.0 1109.3 L854.0 1107.6 L856.0 1106.0 L858.0 1104.3 L860.0 1102.6 L862.0 1100.9 L864.0 1099.2 L866.0 1097.5 L868.0 1095.7 L870.0 1093.9 L872.0 1092.2 L874.0 1090.4 L876.0 1088.6 L878.0 1086.8 L880.0 1084.9 L882.0 1083.1 L884.0 1081.2 L886.0 1079.3 L888.0 1077.4 L890.0 1075.5 L892.0 1073.6 L894.0 1071.6 L896.0 1069.7 L898.0 1067.7 L900.0 1065.7 L902.0 1063.7 L904.0 1061.7 L906.0 1059.6 L908.0 1057.5 L910.0 1055.5 L912.0 1053.4 L914.0 1051.2 L916.0 1049.1 L918.0 1046.9 L920.0 1044.8 L922.0 1042.6 L924.0 1040.4 L926.0 1038.1 L928.0 1035.9 L930.0 1033.6 L932.0 1031.3 L934.0 1029.0 L936.0 1026.7 L938.0 1024.4 L940.0 1022.0 L942.0 1019.6 L944.0 1017.2 L946.0 1014.8 L948.0 1012.3 L949.9 1009.9 L951.9 1007.4 L953.9 1004.9 L955.9 1002.4 L957.9 999.8 L959.9 997.2 L961.9 994.7 L963.9 992.0 L965.9 989.4 L967.9 986.7 L969.9 984.1 L971.9 981.4 L973.9 978.6 L975.9 975.9 L977.9 973.1 L979.9 970.3 L981.9 967.5 L983.9 964.7 L985.9 961.8 L987.9 959.0 L989.9 956.1 L991.9 953.1 L993.9 950.2 L995.9 947.2 L997.9 944.2 L999.9 941.2 L1001.9 938.2 L1003.9 935.1 L1005.9 932.1 L1007.9 929.0 L1009.9 925.9 L1011.9 922.7 L1013.9 919.6 L1015.9 916.4 L1017.9 913.2 L1019.9 910.0 L1021.9 906.7 L1023.9 903.5 L1025.9 900.2 L1027.9 896.9 L1029.9 893.6 L1031.9 890.3 L1033.9 886.9 L1035.9 883.5 L1037.9 880.1 L1039.9 876.7 L1041.9 873.3 L1043.9 869.8 L1045.9 866.4 L1047.9 862.9 L1049.8 859.4 L1051.8 855.8 L1053.8 852.3 L1055.8 848.7 L1057.8 845.2 L1059.8 841.6 L1061.8 838.0 L1063.8 834.3 L1065.8 830.7 L1067.8 827.0 L1069.8 823.3 L1071.8 819.6 L1073.8 815.9 L1075.8 812.2 L1077.8 808.4 L1079.8 804.6 L1081.8 800.9 L1083.8 797.0 L1085.8 793.2 L1087.8 789.4 L1089.8 785.5 L1091.8 781.7 L1093.8 777.8 L1095.8 773.9 L1097.8 770.0 L1099.8 766.1 L1101.8 762.1 L1103.8 758.2 L1105.8 754.2 L1107.8 750.2 L1109.8 746.2 L1111.8 742.2 L1113.8 738.2 L1115.8 734.2 L1117.8 730.1 L1119.8 726.1 L1121.8 722.0 L1123.8 718.0 L1125.8 713.9 L1127.8 709.8 L1129.8 705.7 L1131.8 701.7 L1133.8 697.6 L1135.8 693.5 L1137.8 689.4 L1139.8 685.2 L1141.8 681.1 L1143.8 677.0 L1145.8 672.9 L1147.8 668.8 L1149.7 664.6 L1151.7 660.5 L1153.7 656.4 L1155.7 652.2 L1157.7 648.1 L1159.7 644.0 L1161.7 639.9 L1163.7 635.7 L1165.7 631.6 L1167.7 627.5 L1169.7 623.4 L1171.7 619.2 L1173.7 615.1 L1175.7 611.0 L1177.7 606.9 L1179.7 602.8 L1181.7 598.7 L1183.7 594.6 L1185.7 590.6 L1187.7 586.5 L1189.7 582.4 L1191.7 578.4 L1193.7 574.3 L1195.7 570.3 L1197.7 566.3 L1199.7 562.2 L1201.7 558.2 L1203.7 554.2 L1205.7 550.2 L1207.7 546.3 L1209.7 542.3 L1211.7 538.4 L1213.7 534.4 L1215.7 530.5 L1217.7 526.6 L1219.7 522.7 L1221.7 518.8 L1223.7 515.0 L1225.7 511.1 L1227.7 507.3 L1229.7 503.5 L1231.7 499.7 L1233.7 495.9 L1235.7 492.1 L1237.7 488.3 L1239.7 484.6 L1241.7 480.9 L1243.7 477.2 L1245.7 473.5 L1247.7 469.8 L1249.6 466.2 L1251.6 462.6 L1253.6 459.0 L1255.6 455.4 L1257.6 451.8 L1259.6 448.3 L1261.6 444.7 L1263.6 441.2 L1265.6 437.7 L1267.6 434.3 L1269.6 430.8 L1271.6 427.4 L1273.6 424.0 L1275.6 420.6 L1277.6 417.3 L1279.6 413.9 L1281.6 410.6 L1283.6 407.3 L1285.6 404.1 L1287.6 400.8 L1289.6 397.6 L1291.6 394.4 L1293.6 391.3 L1295.6 388.1 L1297.6 385.0 L1299.6 381.9 L1301.6 378.9 L1303.6 375.8 L1305.6 372.8 L1307.6 369.9 L1309.6 366.9 L1311.6 364.0 L1313.6 361.1 L1315.6 358.2 L1317.6 355.4 L1319.6 352.6 L1321.6 349.8 L1323.6 347.0 L1325.6 344.3 L1327.6 341.6 L1329.6 339.0 L1331.6 336.3 L1333.6 333.7 L1335.6 331.2 L1337.6 328.6 L1339.6 326.1 L1341.6 323.6 L1343.6 321.1 L1345.6 318.7 L1347.6 316.3 L1349.5 313.9 L1351.5 311.6 L1353.5 309.3 L1355.5 307.0 L1357.5 304.7 L1359.5 302.5 L1361.5 300.3 L1363.5 298.1 L1365.5 296.0 L1367.5 293.9 L1369.5 291.8 L1371.5 289.7 L1373.5 287.7 L1375.5 285.7 L1377.5 283.7 L1379.5 281.7 L1381.5 279.8 L1383.5 277.9 L1385.5 276.0 L1387.5 274.2 L1389.5 272.4 L1391.5 270.6 L1393.5 268.8 L1395.5 267.1 L1397.5 265.4 L1399.5 263.7 L1401.5 262.1 L1403.5 260.4 L1405.5 258.8 L1407.5 257.3 L1409.5 255.7 L1411.5 254.2 L1413.5 252.7 L1415.5 251.2 L1417.5 249.8 L1419.5 248.4 L1421.5 247.0 L1423.5 245.6 L1425.5 244.3 L1427.5 243.0 L1429.5 241.7 L1431.5 240.4 L1433.5 239.2 L1435.5 238.0 L1437.5 236.8 L1439.5 235.6 L1441.5 234.5 L1443.5 233.4 L1445.5 232.3 L1447.4 231.2 L1449.4 230.2 L1451.4 229.2 L1453.4 228.2 L1455.4 227.2 L1457.4 226.3 L1459.4 225.4 L1461.4 224.5 L1463.4 223.6 L1465.4 222.8 L1467.4 222.0 L1469.4 221.2 L1471.4 220.4 L1473.4 219.7 L1475.4 218.9 L1477.4 218.2 L1479.4 217.6 L1481.4 216.9 L1483.4 216.3 L1485.4 215.6 L1487.4 215.1 L1489.4 214.5 L1491.4 213.9 L1493.4 213.4 L1495.4 212.9 L1497.4 212.4 L1499.4 212.0 L1501.4 211.5 L1503.4 211.1 L1505.4 210.7 L1507.4 210.3 L1509.4 210.0 L1511.4 209.6 L1513.4 209.3 L1515.4 209.0 L1517.4 208.7 L1519.4 208.5 L1521.4 208.3 L1523.4 208.0 L1525.4 207.8 L1527.4 207.7 L1529.4 207.5 L1531.4 207.4 L1533.4 207.2 L1535.4 207.1 L1537.4 207.1 L1539.4 207.0 L1541.4 206.9 L1543.4 206.9 L1545.4 206.9 L1547.3 206.9 L1549.3 206.9 L1551.3 207.0 L1553.3 207.0 L1555.3 207.1 L1557.3 207.2 L1559.3 207.3 L1561.3 207.5 L1563.3 207.6 L1565.3 207.8 L1567.3 208.0 L1569.3 208.2 L1571.3 208.4 L1573.3 208.6 L1575.3 208.9 L1577.3 209.2 L1579.3 209.5 L1581.3 209.8 L1583.3 210.1 L1585.3 210.4 L1587.3 210.8 L1589.3 211.2 L1591.3 211.6 L1593.3 212.0 L1595.3 212.4 L1597.3 212.9 L1599.3 213.3 L1601.3 213.8 L1603.3 214.3 L1605.3 214.9 L1607.3 215.4 L1609.3 216.0 L1611.3 216.5 L1613.3 217.1 L1615.3 217.7 L1617.3 218.4 L1619.3 219.0 L1621.3 219.7 L1623.3 220.4 L1625.3 221.1 L1627.3 221.8 L1629.3 222.5 L1631.3 223.3 L1633.3 224.1 L1635.3 224.9 L1637.3 225.7 L1639.3 226.5 L1641.3 227.4 L1643.3 228.2 L1645.3 229.1 L1647.2 230.0 L1649.2 230.9 L1651.2 231.9 L1653.2 232.8 L1655.2 233.8 L1657.2 234.8 L1659.2 235.8 L1661.2 236.8 L1663.2 237.9 L1665.2 238.9 L1667.2 240.0 L1669.2 241.1 L1671.2 242.2 L1673.2 243.4 L1675.2 244.5 L1677.2 245.7 L1679.2 246.9 L1681.2 248.1 L1683.2 249.3 L1685.2 250.6 L1687.2 251.8 L1689.2 253.1 L1691.2 254.4 L1693.2 255.8 L1695.2 257.1 L1697.2 258.5 L1699.2 259.8 L1701.2 261.2 L1703.2 262.7 L1705.2 264.1 L1707.2 265.5 L1709.2 267.0 L1711.2 268.5 L1713.2 270.0 L1715.2 271.6 L1717.2 273.1 L1719.2 274.7 L1721.2 276.3 L1723.2 277.9 L1725.2 279.5 L1727.2 281.2 L1729.2 282.8 L1731.2 284.5 L1733.2 286.2 L1735.2 287.9 L1737.2 289.7 L1739.2 291.5 L1741.2 293.2 L1743.2 295.0 L1745.2 296.9 L1747.1 298.7 L1749.1 300.6 L1751.1 302.5 L1753.1 304.4 L1755.1 306.3 L1757.1 308.2 L1759.1 310.2 L1761.1 312.2 L1763.1 314.2 L1765.1 316.2 L1767.1 318.3 L1769.1 320.3 L1771.1 322.4 L1773.1 324.5 L1775.1 326.7 L1777.1 328.8 L1779.1 331.0 L1781.1 333.2 L1783.1 335.4 L1785.1 337.6 L1787.1 339.9 L1789.1 342.2 L1791.1 344.5 L1793.1 346.8 L1795.1 349.2 L1797.1 351.5 L1799.1 354.0 L1801.1 356.4 L1803.1 358.9 L1805.1 361.4 L1807.1 363.9 L1809.1 366.5 L1811.1 369.1 L1813.1 371.8 L1815.1 374.5 L1817.1 377.2 L1819.1 380.0 L1821.1 382.8 L1823.1 385.6 L1825.1 388.5 L1827.1 391.5 L1829.1 394.5 L1831.1 397.5 L1833.1 400.6 L1835.1 403.7 L1837.1 406.9 L1839.1 410.1 L1841.1 413.4 L1843.1 416.7 L1845.1 420.1 L1847.0 423.5 L1849.0 427.0 L1851.0 430.6 L1853.0 434.2 L1855.0 437.8 L1857.0 441.6 L1859.0 445.3 L1861.0 449.2 L1863.0 453.1 L1865.0 457.1 L1867.0 461.1 L1869.0 465.2 L1871.0 469.4 L1873.0 473.6 L1875.0 477.9 L1877.0 482.3 L1879.0 486.7 L1881.0 491.3 L1883.0 495.9 L1885.0 500.5 L1887.0 505.3 L1889.0 510.1 L1891.0 515.0 L1893.0 519.9 L1895.0 525.0"/>
<path stroke="#ff0000" stroke-width="6.00" d="M525.0 1235.8 L527.0 1235.7 L529.0 1235.5 L531.0 1235.3 L533.0 1235.0 L535.0 1234.8 L537.0 1234.6 L539.0 1234.4 L541.0 1234.2 L543.0 1233.9 L545.0 1233.7 L547.0 1233.6 L549.0 1233.4 L551.0 1233.2 L553.0 1233.0 L555.0 1232.8 L557.0 1232.6 L559.0 1232.5 L561.0 1232.3 L563.0 1232.1 L565.0 1232.0 L567.0 1231.8 L569.0 1231.7 L571.0 1231.5 L573.0 1231.3 L575.0 1231.2 L577.0 1231.0 L579.0 1230.9 L581.0 1230.7 L583.0 1230.6 L585.0 1230.4 L587.0 1230.3 L589.0 1230.1 L591.0 1230.0 L593.0 1229.8 L595.0 1229.7 L597.0 1229.5 L599.0 1229.4 L601.0 1229.2 L603.0 1229.1 L605.0 1228.9 L607.0 1228.8 L609.0 1228.6 L611.0 1228.4 L613.0 1228.3 L615.0 1228.1 L617.0 1227.9 L619.0 1227.7 L621.0 1227.6 L623.0 1227.4 L625.0 1227.2 L627.0 1227.0 L629.0 1226.8 L631.0 1226.6 L633.0 1226.4 L635.0 1226.2 L637.0 1225.9 L639.0 1225.7 L641.0 1225.5 L643.0 1225.2 L645.0 1225.0 L647.0 1224.7 L649.0 1224.5 L651.0 1224.2 L653.0 1224.0 L655.0 1223.7 L657.0 1223.4 L659.0 1223.1 L661.0 1222.8 L663.0 1222.5 L665.0 1222.2 L667.0 1221.9 L669.0 1221.6 L671.0 1221.3 L673.0 1220.9 L675.0 1220.6 L677.0 1220.3 L679.0 1219.9 L681.0 1219.6 L683.0 1219.2 L685.0 1218.9 L687.0 1218.5 L689.0 1218.1 L691.0 1217.8 L693.0 1217.4 L695.0 1217.0 L697.0 1216.6 L699.0 1216.2 L701.0 1215.8 L703.0 1215.4 L705.0 1215.0 L707.0 1214.6 L709.0 1214.2 L711.0 1213.8 L713.0 1213.4 L715.0 1212.9 L717.0 1212.5 L719.0 1212.1 L721.0 1211.6 L723.0 1211.2 L725.0 1210.7 L727.0 1210.3 L729.0 1209.8 L731.0 1209.3 L733.0 1208.9 L735.0 1208.4 L737.0 1207.9 L739.0 1207.5 L741.0 1207.0 L743.0 1206.5 L745.0 1206.0 L747.0 1205.5 L749.0 1205.0 L751.0 1204.5 L753.0 1204.0 L755.0 1203.5 L757.0 1203.0 L759.0 1202.5 L761.0 1202.0 L763.0 1201.4 L765.0 1200.9 L767.0 1200.4 L769.0 1199.8 L771.0 1199.3 L773.0 1198.7 L775.0 1198.2 L777.0 1197.6 L779.0 1197.0 L781.0 1196.5 L783.0 1195.9 L785.0 1195.3 L787.0 1194.7 L789.0 1194.1 L791.0 1193.5 L793.0 1192.8 L795.0 1192.2 L797.0 1191.6 L799.0 1190.9 L801.0 1190.2 L803.0 1189.6 L805.0 1188.9 L807.0 1188.2 L809.0 1187.5 L811.0 1186.7 L813.0 1186.0 L815.0 1185.3 L817.0 1184.5 L819.0 1183.7 L821.0 1183.0 L823.0 1182.2 L825.0 1181.3 L827.0 1180.5 L829.0 1179.7 L831.0 1178.8 L833.0 1178.0 L835.0 1177.1 L837.0 1176.2 L839.0 1175.3 L841.0 1174.3 L843.0 1173.4 L845.0 1172.4 L847.0 1171.4 L849.0 1170.4 L851.0 1169.4 L853.0 1168.4 L855.0 1167.3 L857.0 1166.3 L859.0 1165.2 L861.0 1164.1 L863.0 1163.0 L865.0 1161.8 L867.0 1160.6 L869.0 1159.5 L871.0 1158.2 L873.0 1157.0 L875.0 1155.8 L877.0 1154.5 L879.0 1153.2 L881.0 1151.9 L883.0 1150.6 L885.0 1149.2 L887.0 1147.9 L889.0 1146.5 L891.0 1145.1 L893.0 1143.7 L895.0 1142.2 L897.0 1140.8 L899.0 1139.3 L901.0 1137.8 L903.0 1136.3 L905.0 1134.8 L907.0 1133.2 L909.0 1131.6 L911.0 1130.0 L913.0 1128.4 L915.0 1126.8 L917.0 1125.2 L919.0 1123.5 L921.0 1121.8 L923.0 1120.1 L925.0 1118.4 L927.0 1116.7 L929.0 1115.0 L931.0 1113.2 L933.0 1111.4 L935.0 1109.6 L937.0 1107.8 L939.0 1106.0 L941.0 1104.1 L943.0 1102.3 L945.0 1100.4 L947.0 1098.5 L949.0 1096.6 L951.0 1094.6 L953.0 1092.7 L955.0 1090.7 L957.0 1088.8 L959.0 1086.8 L961.0 1084.8 L963.0 1082.7 L965.0 1080.7 L967.0 1078.6 L969.0 1076.6 L971.0 1074.5 L973.0 1072.4 L975.0 1070.3 L977.0 1068.1 L979.0 1066.0 L981.0 1063.8 L983.0 1061.7 L985.0 1059.5 L987.0 1057.3 L989.0 1055.1 L991.0 1052.8 L993.0 1050.6 L995.0 1048.3 L997.0 1046.0 L999.0 1043.7 L1001.0 1041.4 L1003.0 1039.1 L1005.0 1036.7 L1007.0 1034.4 L1009.0 1032.0 L1011.0 1029.6 L1013.0 1027.2 L1015.0 1024.7 L1017.0 1022.3 L1019.0 1019.8 L1021.0 1017.3 L1023.0 1014.8 L1025.0 1012.2 L1027.0 1009.7 L1029.0 1007.1 L1031.0 1004.5 L1033.0 1001.9 L1035.0 999.2 L1037.0 996.6 L1039.0 993.9 L1041.0 991.2 L1043.0 988.5 L1045.0 985.7 L1047.0 982.9 L1049.0 980.1 L1051.0 977.3 L1053.0 974.5 L1055.0 971.6 L1057.0 968.7 L1059.0 965.8 L1061.0 962.8 L1063.0 959.9 L1065.0 956.9 L1067.0 953.9 L1069.0 950.8 L1071.0 947.8 L1073.0 944.7 L1075.0 941.5 L1077.0 938.4 L1079.0 935.2 L1081.0 932.0 L1083.0 928.8 L1085.0 925.5 L1087.0 922.2 L1089.0 918.9 L1091.0 915.5 L1093.0 912.2 L1095.0 908.8 L1097.0 905.3 L1099.0 901.9 L1101.0 898.4 L1103.0 894.9 L1105.0 891.3 L1107.0 887.7 L1109.0 884.1 L1111.0 880.5 L1113.0 876.8 L1115.0 873.2 L1117.0 869.5 L1119.0 865.7 L1121.0 862.0 L1123.0 858.2 L1125.0 854.4 L1127.0 850.6 L1129.0 846.8 L1131.0 843.0 L1133.0 839.1 L1135.0 835.2 L1137.0 831.3 L1139.0 827.4 L1141.0 823.5 L1143.0 819.5 L1145.0 815.6 L1147.0 811.6 L1149.0 807.6 L1151.0 803.6 L1153.0 799.6 L1155.0 795.6 L1157.0 791.5 L1159.0 787.5 L1161.0 783.4 L1163.0 779.4 L1165.0 775.3 L1167.0 771.2 L1169.0 767.1 L1171.0 763.0 L1173.0 759.0 L1175.0 754.9 L1177.0 750.7 L1179.0 746.6 L1181.0 742.5 L1183.0 738.4 L1185.0 734.3 L1187.0 730.2 L1189.0 726.1 L1191.0 722.0 L1193.0 717.8 L1195.0 713.7 L1197.0 709.6 L1199.0 705.5 L1201.0 701.4 L1203.0 697.3 L1205.0 693.2 L1207.0 689.1 L1209.0 685.1 L1211.0 681.0 L1213.0 676.9 L1215.0 672.9 L1217.0 668.8 L1219.0 664.8 L1221.0 660.7 L1223.0 656.7 L1225.0 652.7 L1227.0 648.7 L1229.0 644.7 L1231.0 640.8 L1233.0 636.8 L1235.0 632.9 L1237.0 628.9 L1239.0 625.0 L1241.0 621.1 L1243.0 617.2 L1245.0 613.4 L1247.0 609.5 L1249.0 605.7 L1251.0 601.9 L1253.0 598.1 L1255.0 594.3 L1257.0 590.6 L1259.0 586.9 L1261.0 583.1 L1263.0 579.5 L1265.0 575.8 L1267.0 572.2 L1269.0 568.6 L1271.0 565.0 L1273.0 561.4 L1275.0 557.9 L1277.0 554.4 L1279.0 550.9 L1281.0 547.4 L1283.0 544.0 L1285.0 540.6 L1287.0 537.2 L1289.0 533.9 L1291.0 530.6 L1293.0 527.3 L1295.0 524.1 L1297.0 520.9 L1299.0 517.7 L1301.0 514.5 L1303.0 511.4 L1305.0 508.4 L1307.0 505.3 L1309.0 502.3 L1311.0 499.4 L1313.0 496.4 L1315.0 493.5 L1317.0 490.7 L1319.0 487.9 L1321.0 485.1 L1323.0 482.4 L1325.0 479.7 L1327.0 477.0 L1329.0 474.4 L1331.0 471.9 L1333.0 469.3 L1335.0 466.9 L1337.0 464.4 L1339.0 462.0 L1341.0 459.6 L1343.0 457.3 L1345.0 455.0 L1347.0 452.8 L1349.0 450.5 L1351.0 448.4 L1353.0 446.2 L1355.0 444.1 L1357.0 442.1 L1359.0 440.0 L1361.0 438.0 L1363.0 436.1 L1365.0 434.2 L1367.0 432.3 L1369.0 430.4 L1371.0 428.6 L1373.0 426.8 L1375.0 425.1 L1377.0 423.4 L1379.0 421.7 L1381.0 420.1 L1383.0 418.5 L1385.0 416.9 L1387.0 415.3 L1389.0 413.8 L1391.0 412.3 L1393.0 410.9 L1395.0 409.5 L1397.0 408.1 L1399.0 406.7 L1401.0 405.4 L1403.0 404.1 L1405.0 402.9 L1407.0 401.6 L1409.0 400.4 L1411.0 399.3 L1413.0 398.1 L1415.0 397.0 L1417.0 395.9 L1419.0 394.9 L1421.0 393.8 L1423.0 392.8 L1425.0 391.9 L1427.0 390.9 L1429.0 390.0 L1431.0 389.1 L1433.0 388.2 L1435.0 387.4 L1437.0 386.6 L1439.0 385.8 L1441.0 385.0 L1443.0 384.3 L1445.0 383.6 L1447.0 382.9 L1449.0 382.2 L1451.0 381.6 L1453.0 381.0 L1455.0 380.4 L1457.0 379.8 L1459.0 379.3 L1461.0 378.7 L1463.0 378.2 L1465.0 377.8 L1467.0 377.3 L1469.0 376.9 L1471.0 376.5 L1473.0 376.1 L1475.0 375.7 L1477.0 375.4 L1479.0 375.1 L1481.0 374.8 L1483.0 374.5 L1485.0 374.3 L1487.0 374.1 L1489.0 373.8 L1491.0 373.7 L1493.0 373.5 L1495.0 373.4 L1497.0 373.2 L1499.0 373.1 L1501.0 373.1 L1503.0 373.0 L1505.0 373.0 L1507.0 372.9 L1509.0 372.9 L1511.0 373.0 L1513.0 373.0 L1515.0 373.1 L1517.0 373.1 L1519.0 373.2 L1521.0 373.4 L1523.0 373.5 L1525.0 373.7 L1527.0 373.8 L1529.0 374.0 L1531.0 374.2 L1533.0 374.5 L1535.0 374.7 L1537.0 375.0 L1539.0 375.3 L1541.0 375.5 L1543.0 375.9 L1545.0 376.2 L1547.0 376.5 L1549.0 376.9 L1551.0 377.3 L1553.0 377.7 L1555.0 378.1 L1557.0 378.5 L1559.0 379.0 L1561.0 379.5 L1563.0 379.9 L1565.0 380.4 L1567.0 381.0 L1569.0 381.5 L1571.0 382.0 L1573.0 382.6 L1575.0 383.2 L1577.0 383.8 L1579.0 384.4 L1581.0 385.0 L1583.0 385.6 L1585.0 386.3 L1587.0 387.0 L1589.0 387.6 L1591.0 388.3 L1593.0 389.1 L1595.0 389.8 L1597.0 390.5 L1599.0 391.3 L1601.0 392.1 L1603.0 392.8 L1605.0 393.7 L1607.0 394.5 L1609.0 395.3 L1611.0 396.2 L1613.0 397.0 L1615.0 397.9 L1617.0 398.8 L1619.0 399.7 L1621.0 400.6 L1623.0 401.5 L1625.0 402.5 L1627.0 403.5 L1629.0 404.4 L1631.0 405.4 L1633.0 406.4 L1635.0 407.4 L1637.0 408.5 L1639.0 409.5 L1641.0 410.6 L1643.0 411.6 L1645.0 412.7 L1647.0 413.8 L1649.0 414.9 L1651.0 416.1 L1653.0 417.2 L1655.0 418.3 L1657.0 419.5 L1659.0 420.7 L1661.0 421.9 L1663.0 423.1 L1665.0 424.3 L1667.0 425.5 L1669.0 426.8 L1671.0 428.0 L1673.0 429.3 L1675.0 430.6 L1677.0 431.9 L1679.0 433.2 L1681.0 434.5 L1683.0 435.8 L1685.0 437.1 L1687.0 438.5 L1689.0 439.9 L1691.0 441.2 L1693.0 442.6 L1695.0 444.0 L1697.0 445.5 L1699.0 446.9 L1701.0 448.3 L1703.0 449.8 L1705.0 451.2 L1707.0 452.7 L1709.0 454.2 L1711.0 455.7 L1713.0 457.2 L1715.0 458.7 L1717.0 460.3 L1719.0 461.8 L1721.0 463.4 L1723.0 465.0 L1725.0 466.5 L1727.0 468.1 L1729.0 469.8 L1731.0 471.4 L1733.0 473.0 L1735.0 474.7 L1737.0 476.3 L1739.0 478.0 L1741.0 479.7 L1743.0 481.4 L1745.0 483.1 L1747.0 484.8 L1749.0 486.5 L1751.0 488.2 L1753.0 490.0 L1755.0 491.8 L1757.0 493.5 L1759.0 495.3 L1761.0 497.1 L1763.0 498.9 L1765.0 500.8 L1767.0 502.6 L1769.0 504.4 L1771.0 506.3 L1773.0 508.2 L1775.0 510.0 L1777.0 511.9 L1779.0 513.8 L1781.0 515.7 L1783.0 517.7 L1785.0 519.6 L1787.0 521.6 L1789.0 523.5 L1791.0 525.5 L1793.0 527.5 L1795.0 529.5 L1797.0 531.5 L1799.0 533.5 L1801.0 535.6 L1803.0 537.6 L1805.0 539.7 L1807.0 541.8 L1809.0 543.9 L1811.0 546.0 L1813.0 548.1 L1815.0 550.3 L1817.0 552.5 L1819.0 554.6 L1821.0 556.9 L1823.0 559.1 L1825.0 561.3 L1827.0 563.6 L1829.0 565.8 L1831.0 568.1 L1833.0 570.5 L1835.0 572.8 L1837.0 575.2 L1839.0 577.5 L1841.0 579.9 L1843.0 582.3 L1845.0 584.8 L1847.0 587.3 L1849.0 589.7 L1851.0 592.2 L1853.0 594.8 L1855.0 597.3 L1857.0 599.9 L1859.0 602.5 L1861.0 605.1 L1863.0 607.8 L1865.0 610.5 L1867.0 613.2 L1869.0 615.9 L1871.0 618.6 L1873.0 621.4 L1875.0 624.2 L1877.0 627.0 L1879.0 629.9 L1881.0 632.8 L1883.0 635.7 L1885.0 638.6 L1887.0 641.6 L1889.0 644.6 L1891.0 647.6 L1893.0 650.7 L1895.0 653.8"/>
<path stroke="#00ff00" stroke-width="6.00" d="M650.0 1235.8 L652.0 1235.8 L654.0 1235.8 L656.0 1235.7 L658.0 1235.5 L660.0 1235.4 L662.0 1235.3 L664.0 1235.1 L666.0 1235.0 L668.0 1234.8 L670.0 1234.6 L672.0 1234.5 L674.0 1234.3 L676.0 1234.1 L678.0 1234.0 L680.0 1233.8 L682.0 1233.6 L684.0 1233.4 L686.0 1233.2 L688.0 1233.0 L690.0 1232.8 L692.0 1232.6 L694.0 1232.4 L696.0 1232.2 L698.0 1231.9 L700.0 1231.7 L702.0 1231.5 L704.0 1231.3 L706.0 1231.0 L708.0 1230.8 L710.0 1230.5 L712.0 1230.3 L713.9 1230.1 L715.9 1229.8 L717.9 1229.6 L719.9 1229.3 L721.9 1229.0 L723.9 1228.8 L725.9 1228.5 L727.9 1228.3 L729.9 1228.0 L731.9 1227.7 L733.9 1227.4 L735.9 1227.2 L737.9 1226.9 L739.9 1226.6 L741.9 1226.3 L743.9 1226.1 L745.9 1225.8 L747.9 1225.5 L749.9 1225.2 L751.9 1224.9 L753.9 1224.6 L755.9 1224.3 L757.9 1224.0 L759.9 1223.8 L761.9 1223.5 L763.9 1223.2 L765.9 1222.9 L767.9 1222.6 L769.9 1222.3 L771.9 1222.0 L773.9 1221.7 L775.9 1221.4 L777.9 1221.1 L779.9 1220.8 L781.9 1220.5 L783.9 1220.2 L785.9 1219.9 L787.9 1219.5 L789.9 1219.2 L791.9 1218.9 L793.9 1218.6 L795.9 1218.3 L797.9 1217.9 L799.9 1217.6 L801.9 1217.3 L803.9 1216.9 L805.9 1216.6 L807.9 1216.2 L809.9 1215.9 L811.9 1215.5 L813.9 1215.2 L815.9 1214.8 L817.9 1214.4 L819.9 1214.0 L821.9 1213.7 L823.9 1213.3 L825.9 1212.9 L827.9 1212.5 L829.9 1212.1 L831.9 1211.7 L833.9 1211.2 L835.9 1210.8 L837.8 1210.4 L839.8 1209.9 L841.8 1209.5 L843.8 1209.0 L845.8 1208.6 L847.8 1208.1 L849.8 1207.6 L851.8 1207.1 L853.8 1206.6 L855.8 1206.1 L857.8 1205.6 L859.8 1205.1 L861.8 1204.6 L863.8 1204.0 L865.8 1203.5 L867.8 1202.9 L869.8 1202.4 L871.8 1201.8 L873.8 1201.2 L875.8 1200.6 L877.8 1200.0 L879.8 1199.4 L881.8 1198.7 L883.8 1198.1 L885.8 1197.5 L887.8 1196.8 L889.8 1196.1 L891.8 1195.4 L893.8 1194.7 L895.8 1194.0 L897.8 1193.3 L899.8 1192.6 L901.8 1191.9 L903.8 1191.1 L905.8 1190.3 L907.8 1189.6 L909.8 1188.8 L911.8 1188.0 L913.8 1187.2 L915.8 1186.4 L917.8 1185.5 L919.8 1184.7 L921.8 1183.8 L923.8 1182.9 L925.8 1182.1 L927.8 1181.2 L929.8 1180.2 L931.8 1179.3 L933.8 1178.4 L935.8 1177.4 L937.8 1176.5 L939.8 1175.5 L941.8 1174.5 L943.8 1173.5 L945.8 1172.5 L947.8 1171.5 L949.8 1170.4 L951.8 1169.4 L953.8 1168.3 L955.8 1167.2 L957.8 1166.1 L959.8 1165.0 L961.7 1163.8 L963.7 1162.7 L965.7 1161.5 L967.7 1160.4 L969.7 1159.2 L971.7 1158.0 L973.7 1156.8 L975.7 1155.5 L977.7 1154.3 L979.7 1153.0 L981.7 1151.7 L983.7 1150.4 L985.7 1149.1 L987.7 1147.8 L989.7 1146.5 L991.7 1145.1 L993.7 1143.7 L995.7 1142.3 L997.7 1140.9 L999.7 1139.5 L1001.7 1138.1 L1003.7 1136.6 L1005.7 1135.2 L1007.7 1133.7 L1009.7 1132.2 L1011.7 1130.6 L1013.7 1129.1 L1015.7 1127.5 L1017.7 1126.0 L1019.7 1124.4 L1021.7 1122.8 L1023.7 1121.1 L1025.7 1119.5 L1027.7 1117.8 L1029.7 1116.2 L1031.7 1114.5 L1033.7 1112.8 L1035.7 1111.0 L1037.7 1109.3 L1039.7 1107.5 L1041.7 1105.7 L1043.7 1103.9 L1045.7 1102.1 L1047.7 1100.2 L1049.7 1098.4 L1051.7 1096.5 L1053.7 1094.6 L1055.7 1092.7 L1057.7 1090.7 L1059.7 1088.8 L1061.7 1086.8 L1063.7 1084.8 L1065.7 1082.8 L1067.7 1080.7 L1069.7 1078.7 L1071.7 1076.6 L1073.7 1074.5 L1075.7 1072.4 L1077.7 1070.3 L1079.7 1068.1 L1081.7 1065.9 L1083.7 1063.7 L1085.7 1061.5 L1087.6 1059.3 L1089.6 1057.0 L1091.6 1054.7 L1093.6 1052.4 L1095.6 1050.1 L1097.6 1047.8 L1099.6 1045.4 L1101.6 1043.0 L1103.6 1040.6 L1105.6 1038.2 L1107.6 1035.7 L1109.6 1033.2 L1111.6 1030.7 L1113.6 1028.2 L1115.6 1025.7 L1117.6 1023.1 L1119.6 1020.6 L1121.6 1018.0 L1123.6 1015.4 L1125.6 1012.8 L1127.6 1010.1 L1129.6 1007.5 L1131.6 1004.8 L1133.6 1002.1 L1135.6 999.4 L1137.6 996.7 L1139.6 993.9 L1141.6 991.2 L1143.6 988.4 L1145.6 985.6 L1147.6 982.8 L1149.6 980.0 L1151.6 977.2 L1153.6 974.4 L1155.6 971.5 L1157.6 968.7 L1159.6 965.8 L1161.6 962.9 L1163.6 960.0 L1165.6 957.1 L1167.6 954.2 L1169.6 951.3 L1171.6 948.4 L1173.6 945.5 L1175.6 942.5 L1177.6 939.6 L1179.6 936.6 L1181.6 933.7 L1183.6 930.7 L1185.6 927.7 L1187.6 924.7 L1189.6 921.8 L1191.6 918.8 L1193.6 915.8 L1195.6 912.8 L1197.6 909.8 L1199.6 906.8 L1201.6 903.8 L1203.6 900.7 L1205.6 897.7 L1207.6 894.7 L1209.6 891.7 L1211.5 888.7 L1213.5 885.7 L1215.5 882.6 L1217.5 879.6 L1219.5 876.6 L1221.5 873.6 L1223.5 870.6 L1225.5 867.6 L1227.5 864.6 L1229.5 861.6 L1231.5 858.6 L1233.5 855.6 L1235.5 852.6 L1237.5 849.6 L1239.5 846.6 L1241.5 843.6 L1243.5 840.6 L1245.5 837.7 L1247.5 834.7 L1249.5 831.8 L1251.5 828.9 L1253.5 825.9 L1255.5 823.0 L1257.5 820.1 L1259.5 817.2 L1261.5 814.4 L1263.5 811.5 L1265.5 808.6 L1267.5 805.8 L1269.5 803.0 L1271.5 800.2 L1273.5 797.4 L1275.5 794.6 L1277.5 791.8 L1279.5 789.1 L1281.5 786.3 L1283.5 783.6 L1285.5 780.9 L1287.5 778.3 L1289.5 775.6 L1291.5 773.0 L1293.5 770.4 L1295.5 767.8 L1297.5 765.2 L1299.5 762.7 L1301.5 760.1 L1303.5 757.6 L1305.5 755.1 L1307.5 752.7 L1309.5 750.3 L1311.5 747.9 L1313.5 745.5 L1315.5 743.1 L1317.5 740.8 L1319.5 738.5 L1321.5 736.2 L1323.5 734.0 L1325.5 731.8 L1327.5 729.6 L1329.5 727.5 L1331.5 725.4 L1333.5 723.3 L1335.4 721.2 L1337.4 719.2 L1339.4 717.2 L1341.4 715.2 L1343.4 713.3 L1345.4 711.4 L1347.4 709.5 L1349.4 707.7 L1351.4 705.9 L1353.4 704.1 L1355.4 702.3 L1357.4 700.6 L1359.4 698.9 L1361.4 697.2 L1363.4 695.6 L1365.4 694.0 L1367.4 692.4 L1369.4 690.9 L1371.4 689.4 L1373.4 687.9 L1375.4 686.4 L1377.4 685.0 L1379.4 683.6 L1381.4 682.2 L1383.4 680.9 L1385.4 679.5 L1387.4 678.3 L1389.4 677.0 L1391.4 675.8 L1393.4 674.6 L1395.4 673.4 L1397.4 672.2 L1399.4 671.1 L1401.4 670.0 L1403.4 669.0 L1405.4 668.0 L1407.4 666.9 L1409.4 666.0 L1411.4 665.0 L1413.4 664.1 L1415.4 663.2 L1417.4 662.3 L1419.4 661.5 L1421.4 660.7 L1423.4 659.9 L1425.4 659.1 L1427.4 658.4 L1429.4 657.7 L1431.4 657.0 L1433.4 656.4 L1435.4 655.8 L1437.4 655.2 L1439.4 654.6 L1441.4 654.1 L1443.4 653.5 L1445.4 653.0 L1447.4 652.6 L1449.4 652.1 L1451.4 651.7 L1453.4 651.3 L1455.4 651.0 L1457.4 650.6 L1459.3 650.3 L1461.3 650.0 L1463.3 649.8 L1465.3 649.5 L1467.3 649.3 L1469.3 649.1 L1471.3 648.9 L1473.3 648.8 L1475.3 648.7 L1477.3 648.5 L1479.3 648.5 L1481.3 648.4 L1483.3 648.4 L1485.3 648.3 L1487.3 648.3 L1489.3 648.4 L1491.3 648.4 L1493.3 648.5 L1495.3 648.6 L1497.3 648.7 L1499.3 648.8 L1501.3 648.9 L1503.3 649.1 L1505.3 649.3 L1507.3 649.4 L1509.3 649.7 L1511.3 649.9 L1513.3 650.1 L1515.3 650.4 L1517.3 650.7 L1519.3 651.0 L1521.3 651.3 L1523.3 651.6 L1525.3 652.0 L1527.3 652.4 L1529.3 652.7 L1531.3 653.1 L1533.3 653.6 L1535.3 654.0 L1537.3 654.4 L1539.3 654.9 L1541.3 655.3 L1543.3 655.8 L1545.3 656.3 L1547.3 656.8 L1549.3 657.4 L1551.3 657.9 L1553.3 658.4 L1555.3 659.0 L1557.3 659.6 L1559.3 660.1 L1561.3 660.7 L1563.3 661.4 L1565.3 662.0 L1567.3 662.6 L1569.3 663.2 L1571.3 663.9 L1573.3 664.6 L1575.3 665.2 L1577.3 665.9 L1579.3 666.6 L1581.3 667.3 L1583.3 668.0 L1585.2 668.7 L1587.2 669.5 L1589.2 670.2 L1591.2 671.0 L1593.2 671.7 L1595.2 672.5 L1597.2 673.3 L1599.2 674.0 L1601.2 674.8 L1603.2 675.6 L1605.2 676.4 L1607.2 677.3 L1609.2 678.1 L1611.2 678.9 L1613.2 679.8 L1615.2 680.6 L1617.2 681.5 L1619.2 682.3 L1621.2 683.2 L1623.2 684.1 L1625.2 684.9 L1627.2 685.8 L1629.2 686.7 L1631.2 687.6 L1633.2 688.5 L1635.2 689.4 L1637.2 690.3 L1639.2 691.3 L1641.2 692.2 L1643.2 693.1 L1645.2 694.0 L1647.2 695.0 L1649.2 695.9 L1651.2 696.9 L1653.2 697.8 L1655.2 698.8 L1657.2 699.7 L1659.2 700.7 L1661.2 701.6 L1663.2 702.6 L1665.2 703.6 L1667.2 704.6 L1669.2 705.5 L1671.2 706.5 L1673.2 707.5 L1675.2 708.5 L1677.2 709.5 L1679.2 710.4 L1681.2 711.4 L1683.2 712.4 L1685.2 713.4 L1687.2 714.4 L1689.2 715.4 L1691.2 716.5 L1693.2 717.5 L1695.2 718.5 L1697.2 719.5 L1699.2 720.5 L1701.2 721.6 L1703.2 722.6 L1705.2 723.6 L1707.2 724.7 L1709.1 725.7 L1711.1 726.8 L1713.1 727.8 L1715.1 728.9 L1717.1 729.9 L1719.1 731.0 L1721.1 732.1 L1723.1 733.1 L1725.1 734.2 L1727.1 735.3 L1729.1 736.4 L1731.1 737.5 L1733.1 738.6 L1735.1 739.7 L1737.1 740.8 L1739.1 742.0 L1741.1 743.1 L1743.1 744.2 L1745.1 745.4 L1747.1 746.5 L1749.1 747.7 L1751.1 748.8 L1753.1 750.0 L1755.1 751.2 L1757.1 752.3 L1759.1 753.5 L1761.1 754.7 L1763.1 755.9 L1765.1 757.1 L1767.1 758.3 L1769.1 759.6 L1771.1 760.8 L1773.1 762.0 L1775.1 763.3 L1777.1 764.5 L1779.1 765.8 L1781.1 767.1 L1783.1 768.3 L1785.1 769.6 L1787.1 770.9 L1789.1 772.2 L1791.1 773.5 L1793.1 774.8 L1795.1 776.2 L1797.1 777.5 L1799.1 778.9 L1801.1 780.2 L1803.1 781.6 L1805.1 783.0 L1807.1 784.4 L1809.1 785.8 L1811.1 787.2 L1813.1 788.6 L1815.1 790.1 L1817.1 791.5 L1819.1 793.0 L1821.1 794.5 L1823.1 796.0 L1825.1 797.5 L1827.1 799.0 L1829.1 800.6 L1831.1 802.1 L1833.0 803.7 L1835.0 805.3 L1837.0 806.9 L1839.0 808.5 L1841.0 810.2 L1843.0 811.8 L1845.0 813.5 L1847.0 815.2 L1849.0 816.9 L1851.0 818.6 L1853.0 820.4 L1855.0 822.2 L1857.0 823.9 L1859.0 825.8 L1861.0 827.6 L1863.0 829.4 L1865.0 831.3 L1867.0 833.2 L1869.0 835.1 L1871.0 837.0 L1873.0 839.0 L1875.0 841.0 L1877.0 843.0 L1879.0 845.0 L1881.0 847.0 L1883.0 849.1 L1885.0 851.2 L1887.0 853.3 L1889.0 855.4 L1891.0 857.6 L1893.0 859.8 L1895.0 862.0"/>
<path stroke="#ff8000" stroke-width="6.00" d="M774.0 1235.8 L776.0 1235.8 L778.0 1235.7 L780.0 1235.5 L782.0 1235.3 L784.0 1235.2 L786.0 1235.0 L788.0 1234.8 L790.0 1234.7 L792.0 1234.5 L794.0 1234.3 L796.0 1234.1 L798.0 1234.0 L800.0 1233.8 L802.0 1233.6 L804.0 1233.4 L806.0 1233.2 L808.0 1233.0 L810.0 1232.9 L812.0 1232.7 L814.0 1232.5 L816.0 1232.3 L818.0 1232.1 L820.0 1231.9 L822.0 1231.7 L824.0 1231.4 L826.0 1231.2 L828.0 1231.0 L830.0 1230.8 L831.9 1230.6 L833.9 1230.3 L835.9 1230.1 L837.9 1229.9 L839.9 1229.6 L841.9 1229.4 L843.9 1229.2 L845.9 1228.9 L847.9 1228.7 L849.9 1228.4 L851.9 1228.1 L853.9 1227.9 L855.9 1227.6 L857.9 1227.3 L859.9 1227.0 L861.9 1226.8 L863.9 1226.5 L865.9 1226.2 L867.9 1225.9 L869.9 1225.6 L871.9 1225.3 L873.9 1224.9 L875.9 1224.6 L877.9 1224.3 L879.9 1224.0 L881.9 1223.6 L883.9 1223.3 L885.9 1222.9 L887.9 1222.6 L889.9 1222.2 L891.9 1221.8 L893.9 1221.5 L895.9 1221.1 L897.9 1220.7 L899.9 1220.3 L901.9 1219.9 L903.9 1219.5 L905.9 1219.1 L907.9 1218.7 L909.9 1218.2 L911.9 1217.8 L913.9 1217.4 L915.9 1216.9 L917.9 1216.5 L919.9 1216.0 L921.9 1215.6 L923.9 1215.1 L925.9 1214.6 L927.9 1214.2 L929.9 1213.7 L931.9 1213.2 L933.9 1212.7 L935.9 1212.2 L937.9 1211.7 L939.9 1211.2 L941.9 1210.7 L943.8 1210.2 L945.8 1209.6 L947.8 1209.1 L949.8 1208.6 L951.8 1208.0 L953.8 1207.5 L955.8 1206.9 L957.8 1206.3 L959.8 1205.8 L961.8 1205.2 L963.8 1204.6 L965.8 1204.0 L967.8 1203.4 L969.8 1202.8 L971.8 1202.2 L973.8 1201.6 L975.8 1201.0 L977.8 1200.4 L979.8 1199.8 L981.8 1199.1 L983.8 1198.5 L985.8 1197.9 L987.8 1197.2 L989.8 1196.6 L991.8 1195.9 L993.8 1195.2 L995.8 1194.6 L997.8 1193.9 L999.8 1193.2 L1001.8 1192.5 L1003.8 1191.8 L1005.8 1191.1 L1007.8 1190.4 L1009.8 1189.7 L1011.8 1189.0 L1013.8 1188.3 L1015.8 1187.5 L1017.8 1186.8 L1019.8 1186.0 L1021.8 1185.3 L1023.8 1184.5 L1025.8 1183.7 L1027.8 1182.9 L1029.8 1182.1 L1031.8 1181.3 L1033.8 1180.5 L1035.8 1179.7 L1037.8 1178.8 L1039.8 1178.0 L1041.8 1177.1 L1043.8 1176.2 L1045.8 1175.4 L1047.8 1174.4 L1049.8 1173.5 L1051.8 1172.6 L1053.8 1171.7 L1055.7 1170.7 L1057.7 1169.7 L1059.7 1168.7 L1061.7 1167.7 L1063.7 1166.7 L1065.7 1165.7 L1067.7 1164.6 L1069.7 1163.6 L1071.7 1162.5 L1073.7 1161.4 L1075.7 1160.3 L1077.7 1159.1 L1079.7 1158.0 L1081.7 1156.8 L1083.7 1155.6 L1085.7 1154.4 L1087.7 1153.2 L1089.7 1152.0 L1091.7 1150.7 L1093.7 1149.4 L1095.7 1148.1 L1097.7 1146.8 L1099.7 1145.4 L1101.7 1144.1 L1103.7 1142.7 L1105.7 1141.3 L1107.7 1139.8 L1109.7 1138.4 L1111.7 1136.9 L1113.7 1135.4 L1115.7 1133.9 L1117.7 1132.3 L1119.7 1130.8 L1121.7 1129.2 L1123.7 1127.6 L1125.7 1126.0 L1127.7 1124.3 L1129.7 1122.6 L1131.7 1121.0 L1133.7 1119.3 L1135.7 1117.6 L1137.7 1115.8 L1139.7 1114.1 L1141.7 1112.3 L1143.7 1110.6 L1145.7 1108.8 L1147.7 1107.0 L1149.7 1105.2 L1151.7 1103.3 L1153.7 1101.5 L1155.7 1099.7 L1157.7 1097.8 L1159.7 1095.9 L1161.7 1094.0 L1163.7 1092.2 L1165.7 1090.3 L1167.6 1088.4 L1169.6 1086.5 L1171.6 1084.5 L1173.6 1082.6 L1175.6 1080.7 L1177.6 1078.7 L1179.6 1076.8 L1181.6 1074.9 L1183.6 1072.9 L1185.6 1071.0 L1187.6 1069.0 L1189.6 1067.1 L1191.6 1065.1 L1193.6 1063.1 L1195.6 1061.2 L1197.6 1059.2 L1199.6 1057.3 L1201.6 1055.3 L1203.6 1053.4 L1205.6 1051.4 L1207.6 1049.5 L1209.6 1047.5 L1211.6 1045.6 L1213.6 1043.6 L1215.6 1041.7 L1217.6 1039.8 L1219.6 1037.9 L1221.6 1035.9 L1223.6 1034.0 L1225.6 1032.1 L1227.6 1030.2 L1229.6 1028.4 L1231.6 1026.5 L1233.6 1024.6 L1235.6 1022.7 L1237.6 1020.9 L1239.6 1019.1 L1241.6 1017.2 L1243.6 1015.4 L1245.6 1013.6 L1247.6 1011.8 L1249.6 1010.0 L1251.6 1008.2 L1253.6 1006.4 L1255.6 1004.6 L1257.6 1002.8 L1259.6 1001.1 L1261.6 999.3 L1263.6 997.6 L1265.6 995.9 L1267.6 994.2 L1269.6 992.5 L1271.6 990.8 L1273.6 989.1 L1275.6 987.4 L1277.6 985.7 L1279.5 984.1 L1281.5 982.4 L1283.5 980.8 L1285.5 979.2 L1287.5 977.6 L1289.5 976.0 L1291.5 974.4 L1293.5 972.8 L1295.5 971.2 L1297.5 969.7 L1299.5 968.1 L1301.5 966.6 L1303.5 965.1 L1305.5 963.6 L1307.5 962.1 L1309.5 960.6 L1311.5 959.1 L1313.5 957.7 L1315.5 956.2 L1317.5 954.8 L1319.5 953.4 L1321.5 952.0 L1323.5 950.6 L1325.5 949.2 L1327.5 947.8 L1329.5 946.5 L1331.5 945.2 L1333.5 943.8 L1335.5 942.5 L1337.5 941.2 L1339.5 939.9 L1341.5 938.7 L1343.5 937.4 L1345.5 936.2 L1347.5 935.0 L1349.5 933.7 L1351.5 932.5 L1353.5 931.4 L1355.5 930.2 L1357.5 929.1 L1359.5 927.9 L1361.5 926.8 L1363.5 925.7 L1365.5 924.6 L1367.5 923.5 L1369.5 922.5 L1371.5 921.4 L1373.5 920.4 L1375.5 919.4 L1377.5 918.4 L1379.5 917.4 L1381.5 916.5 L1383.5 915.5 L1385.5 914.6 L1387.5 913.7 L1389.5 912.8 L1391.4 911.9 L1393.4 911.1 L1395.4 910.3 L1397.4 909.4 L1399.4 908.6 L1401.4 907.8 L1403.4 907.1 L1405.4 906.3 L1407.4 905.6 L1409.4 904.9 L1411.4 904.2 L1413.4 903.5 L1415.4 902.9 L1417.4 902.2 L1419.4 901.6 L1421.4 901.0 L1423.4 900.4 L1425.4 899.8 L1427.4 899.3 L1429.4 898.8 L1431.4 898.3 L1433.4 897.8 L1435.4 897.3 L1437.4 896.9 L1439.4 896.4 L1441.4 896.0 L1443.4 895.7 L1445.4 895.3 L1447.4 894.9 L1449.4 894.6 L1451.4 894.3 L1453.4 894.0 L1455.4 893.8 L1457.4 893.5 L1459.4 893.3 L1461.4 893.1 L1463.4 892.9 L1465.4 892.7 L1467.4 892.6 L1469.4 892.4 L1471.4 892.3 L1473.4 892.2 L1475.4 892.1 L1477.4 892.1 L1479.4 892.0 L1481.4 892.0 L1483.4 892.0 L1485.4 892.0 L1487.4 892.0 L1489.4 892.0 L1491.4 892.1 L1493.4 892.1 L1495.4 892.2 L1497.4 892.3 L1499.4 892.4 L1501.4 892.5 L1503.3 892.6 L1505.3 892.7 L1507.3 892.9 L1509.3 893.1 L1511.3 893.2 L1513.3 893.4 L1515.3 893.6 L1517.3 893.8 L1519.3 894.1 L1521.3 894.3 L1523.3 894.5 L1525.3 894.8 L1527.3 895.0 L1529.3 895.3 L1531.3 895.6 L1533.3 895.9 L1535.3 896.2 L1537.3 896.5 L1539.3 896.8 L1541.3 897.1 L1543.3 897.5 L1545.3 897.8 L1547.3 898.2 L1549.3 898.5 L1551.3 898.9 L1553.3 899.2 L1555.3 899.6 L1557.3 900.0 L1559.3 900.4 L1561.3 900.8 L1563.3 901.2 L1565.3 901.6 L1567.3 902.0 L1569.3 902.4 L1571.3 902.8 L1573.3 903.2 L1575.3 903.7 L1577.3 904.1 L1579.3 904.5 L1581.3 905.0 L1583.3 905.4 L1585.3 905.9 L1587.3 906.4 L1589.3 906.8 L1591.3 907.3 L1593.3 907.8 L1595.3 908.2 L1597.3 908.7 L1599.3 909.2 L1601.3 909.7 L1603.3 910.2 L1605.3 910.7 L1607.3 911.2 L1609.3 911.7 L1611.3 912.2 L1613.3 912.8 L1615.2 913.3 L1617.2 913.8 L1619.2 914.3 L1621.2 914.9 L1623.2 915.4 L1625.2 916.0 L1627.2 916.5 L1629.2 917.1 L1631.2 917.6 L1633.2 918.2 L1635.2 918.8 L1637.2 919.3 L1639.2 919.9 L1641.2 920.5 L1643.2 921.1 L1645.2 921.7 L1647.2 922.3 L1649.2 922.9 L1651.2 923.5 L1653.2 924.1 L1655.2 924.7 L1657.2 925.3 L1659.2 925.9 L1661.2 926.5 L1663.2 927.1 L1665.2 927.8 L1667.2 928.4 L1669.2 929.0 L1671.2 929.7 L1673.2 930.3 L1675.2 930.9 L1677.2 931.6 L1679.2 932.2 L1681.2 932.9 L1683.2 933.5 L1685.2 934.2 L1687.2 934.9 L1689.2 935.5 L1691.2 936.2 L1693.2 936.9 L1695.2 937.6 L1697.2 938.2 L1699.2 938.9 L1701.2 939.6 L1703.2 940.3 L1705.2 941.0 L1707.2 941.7 L1709.2 942.4 L1711.2 943.1 L1713.2 943.8 L1715.2 944.5 L1717.2 945.2 L1719.2 945.9 L1721.2 946.7 L1723.2 947.4 L1725.2 948.1 L1727.1 948.9 L1729.1 949.6 L1731.1 950.3 L1733.1 951.1 L1735.1 951.8 L1737.1 952.6 L1739.1 953.3 L1741.1 954.1 L1743.1 954.9 L1745.1 955.6 L1747.1 956.4 L1749.1 957.2 L1751.1 957.9 L1753.1 958.7 L1755.1 959.5 L1757.1 960.3 L1759.1 961.1 L1761.1 961.9 L1763.1 962.7 L1765.1 963.5 L1767.1 964.3 L1769.1 965.1 L1771.1 965.9 L1773.1 966.7 L1775.1 967.6 L1777.1 968.4 L1779.1 969.2 L1781.1 970.1 L1783.1 970.9 L1785.1 971.7 L1787.1 972.6 L1789.1 973.4 L1791.1 974.3 L1793.1 975.1 L1795.1 976.0 L1797.1 976.9 L1799.1 977.7 L1801.1 978.6 L1803.1 979.5 L1805.1 980.4 L1807.1 981.2 L1809.1 982.1 L1811.1 983.0 L1813.1 983.9 L1815.1 984.8 L1817.1 985.7 L1819.1 986.6 L1821.1 987.6 L1823.1 988.5 L1825.1 989.4 L1827.1 990.3 L1829.1 991.3 L1831.1 992.2 L1833.1 993.1 L1835.1 994.1 L1837.1 995.0 L1839.0 996.0 L1841.0 996.9 L1843.0 997.9 L1845.0 998.9 L1847.0 999.8 L1849.0 1000.8 L1851.0 1001.8 L1853.0 1002.8 L1855.0 1003.7 L1857.0 1004.7 L1859.0 1005.7 L1861.0 1006.7 L1863.0 1007.7 L1865.0 1008.8 L1867.0 1009.8 L1869.0 1010.8 L1871.0 1011.8 L1873.0 1012.9 L1875.0 1013.9 L1877.0 1014.9 L1879.0 1016.0 L1881.0 1017.0 L1883.0 1018.1 L1885.0 1019.1 L1887.0 1020.2 L1889.0 1021.3 L1891.0 1022.3 L1893.0 1023.4 L1895.0 1024.5"/>
<path stroke="#00ffff" stroke-width="6.00" d="M897.8 1235.8 L899.7 1235.7 L901.7 1235.4 L903.7 1235.2 L905.7 1234.9 L907.7 1234.6 L909.7 1234.3 L911.7 1234.1 L913.7 1233.8 L915.7 1233.6 L917.7 1233.3 L919.7 1233.1 L921.7 1232.8 L923.7 1232.5 L925.7 1232.3 L927.7 1232.0 L929.7 1231.8 L931.7 1231.6 L933.7 1231.3 L935.7 1231.1 L937.7 1230.8 L939.7 1230.6 L941.7 1230.3 L943.7 1230.1 L945.7 1229.8 L947.7 1229.6 L949.7 1229.4 L951.7 1229.1 L953.7 1228.9 L955.7 1228.6 L957.7 1228.4 L959.7 1228.1 L961.7 1227.9 L963.7 1227.6 L965.7 1227.4 L967.7 1227.1 L969.7 1226.8 L971.7 1226.6 L973.7 1226.3 L975.7 1226.0 L977.7 1225.8 L979.7 1225.5 L981.7 1225.2 L983.7 1224.9 L985.7 1224.6 L987.7 1224.4 L989.7 1224.1 L991.7 1223.8 L993.7 1223.5 L995.7 1223.1 L997.7 1222.8 L999.7 1222.5 L1001.7 1222.2 L1003.7 1221.9 L1005.7 1221.5 L1007.7 1221.2 L1009.7 1220.8 L1011.7 1220.5 L1013.7 1220.1 L1015.7 1219.8 L1017.7 1219.4 L1019.7 1219.0 L1021.7 1218.6 L1023.7 1218.2 L1025.7 1217.8 L1027.7 1217.4 L1029.7 1217.0 L1031.6 1216.6 L1033.6 1216.2 L1035.6 1215.8 L1037.6 1215.3 L1039.6 1214.9 L1041.6 1214.4 L1043.6 1214.0 L1045.6 1213.5 L1047.6 1213.0 L1049.6 1212.5 L1051.6 1212.1 L1053.6 1211.6 L1055.6 1211.1 L1057.6 1210.5 L1059.6 1210.0 L1061.6 1209.5 L1063.6 1209.0 L1065.6 1208.4 L1067.6 1207.9 L1069.6 1207.3 L1071.6 1206.7 L1073.6 1206.2 L1075.6 1205.6 L1077.6 1205.0 L1079.6 1204.4 L1081.6 1203.8 L1083.6 1203.2 L1085.6 1202.6 L1087.6 1201.9 L1089.6 1201.3 L1091.6 1200.6 L1093.6 1200.0 L1095.6 1199.3 L1097.6 1198.6 L1099.6 1198.0 L1101.6 1197.3 L1103.6 1196.6 L1105.6 1195.9 L1107.6 1195.1 L1109.6 1194.4 L1111.6 1193.7 L1113.6 1192.9 L1115.6 1192.2 L1117.6 1191.4 L1119.6 1190.6 L1121.6 1189.8 L1123.6 1189.0 L1125.6 1188.2 L1127.6 1187.4 L1129.6 1186.6 L1131.6 1185.8 L1133.6 1184.9 L1135.6 1184.1 L1137.6 1183.2 L1139.6 1182.4 L1141.6 1181.5 L1143.6 1180.6 L1145.6 1179.7 L1147.6 1178.8 L1149.6 1177.9 L1151.6 1177.0 L1153.6 1176.1 L1155.6 1175.2 L1157.6 1174.3 L1159.6 1173.3 L1161.6 1172.4 L1163.6 1171.4 L1165.5 1170.5 L1167.5 1169.5 L1169.5 1168.5 L1171.5 1167.6 L1173.5 1166.6 L1175.5 1165.6 L1177.5 1164.6 L1179.5 1163.6 L1181.5 1162.6 L1183.5 1161.6 L1185.5 1160.6 L1187.5 1159.6 L1189.5 1158.6 L1191.5 1157.5 L1193.5 1156.5 L1195.5 1155.5 L1197.5 1154.4 L1199.5 1153.4 L1201.5 1152.3 L1203.5 1151.3 L1205.5 1150.2 L1207.5 1149.2 L1209.5 1148.1 L1211.5 1147.1 L1213.5 1146.0 L1215.5 1144.9 L1217.5 1143.9 L1219.5 1142.8 L1221.5 1141.7 L1223.5 1140.6 L1225.5 1139.6 L1227.5 1138.5 L1229.5 1137.4 L1231.5 1136.3 L1233.5 1135.2 L1235.5 1134.2 L1237.5 1133.1 L1239.5 1132.0 L1241.5 1130.9 L1243.5 1129.8 L1245.5 1128.7 L1247.5 1127.7 L1249.5 1126.6 L1251.5 1125.5 L1253.5 1124.4 L1255.5 1123.3 L1257.5 1122.2 L1259.5 1121.2 L1261.5 1120.1 L1263.5 1119.0 L1265.5 1117.9 L1267.5 1116.9 L1269.5 1115.8 L1271.5 1114.7 L1273.5 1113.7 L1275.5 1112.6 L1277.5 1111.6 L1279.5 1110.5 L1281.5 1109.5 L1283.5 1108.4 L1285.5 1107.4 L1287.5 1106.4 L1289.5 1105.3 L1291.5 1104.3 L1293.5 1103.3 L1295.5 1102.3 L1297.4 1101.3 L1299.4 1100.3 L1301.4 1099.3 L1303.4 1098.3 L1305.4 1097.4 L1307.4 1096.4 L1309.4 1095.4 L1311.4 1094.5 L1313.4 1093.5 L1315.4 1092.6 L1317.4 1091.7 L1319.4 1090.7 L1321.4 1089.8 L1323.4 1088.9 L1325.4 1088.0 L1327.4 1087.1 L1329.4 1086.3 L1331.4 1085.4 L1333.4 1084.6 L1335.4 1083.7 L1337.4 1082.9 L1339.4 1082.1 L1341.4 1081.2 L1343.4 1080.4 L1345.4 1079.7 L1347.4 1078.9 L1349.4 1078.1 L1351.4 1077.4 L1353.4 1076.6 L1355.4 1075.9 L1357.4 1075.2 L1359.4 1074.4 L1361.4 1073.7 L1363.4 1073.1 L1365.4 1072.4 L1367.4 1071.7 L1369.4 1071.1 L1371.4 1070.4 L1373.4 1069.8 L1375.4 1069.2 L1377.4 1068.5 L1379.4 1067.9 L1381.4 1067.4 L1383.4 1066.8 L1385.4 1066.2 L1387.4 1065.7 L1389.4 1065.1 L1391.4 1064.6 L1393.4 1064.0 L1395.4 1063.5 L1397.4 1063.0 L1399.4 1062.5 L1401.4 1062.1 L1403.4 1061.6 L1405.4 1061.1 L1407.4 1060.7 L1409.4 1060.2 L1411.4 1059.8 L1413.4 1059.4 L1415.4 1059.0 L1417.4 1058.6 L1419.4 1058.2 L1421.4 1057.8 L1423.4 1057.5 L1425.4 1057.1 L1427.4 1056.8 L1429.4 1056.4 L1431.3 1056.1 L1433.3 1055.8 L1435.3 1055.5 L1437.3 1055.2 L1439.3 1054.9 L1441.3 1054.6 L1443.3 1054.4 L1445.3 1054.1 L1447.3 1053.9 L1449.3 1053.7 L1451.3 1053.4 L1453.3 1053.2 L1455.3 1053.0 L1457.3 1052.8 L1459.3 1052.7 L1461.3 1052.5 L1463.3 1052.3 L1465.3 1052.2 L1467.3 1052.0 L1469.3 1051.9 L1471.3 1051.8 L1473.3 1051.7 L1475.3 1051.6 L1477.3 1051.5 L1479.3 1051.4 L1481.3 1051.3 L1483.3 1051.2 L1485.3 1051.2 L1487.3 1051.1 L1489.3 1051.1 L1491.3 1051.1 L1493.3 1051.0 L1495.3 1051.0 L1497.3 1051.0 L1499.3 1051.0 L1501.3 1051.0 L1503.3 1051.0 L1505.3 1051.0 L1507.3 1051.1 L1509.3 1051.1 L1511.3 1051.2 L1513.3 1051.2 L1515.3 1051.3 L1517.3 1051.3 L1519.3 1051.4 L1521.3 1051.5 L1523.3 1051.6 L1525.3 1051.7 L1527.3 1051.8 L1529.3 1051.9 L1531.3 1052.0 L1533.3 1052.1 L1535.3 1052.2 L1537.3 1052.4 L1539.3 1052.5 L1541.3 1052.6 L1543.3 1052.8 L1545.3 1052.9 L1547.3 1053.1 L1549.3 1053.3 L1551.3 1053.4 L1553.3 1053.6 L1555.3 1053.8 L1557.3 1054.0 L1559.3 1054.2 L1561.3 1054.4 L1563.2 1054.6 L1565.2 1054.8 L1567.2 1055.0 L1569.2 1055.2 L1571.2 1055.4 L1573.2 1055.7 L1575.2 1055.9 L1577.2 1056.1 L1579.2 1056.4 L1581.2 1056.6 L1583.2 1056.8 L1585.2 1057.1 L1587.2 1057.4 L1589.2 1057.6 L1591.2 1057.9 L1593.2 1058.1 L1595.2 1058.4 L1597.2 1058.7 L1599.2 1059.0 L1601.2 1059.3 L1603.2 1059.5 L1605.2 1059.8 L1607.2 1060.1 L1609.2 1060.4 L1611.2 1060.7 L1613.2 1061.0 L1615.2 1061.3 L1617.2 1061.7 L1619.2 1062.0 L1621.2 1062.3 L1623.2 1062.6 L1625.2 1062.9 L1627.2 1063.3 L1629.2 1063.6 L1631.2 1063.9 L1633.2 1064.3 L1635.2 1064.6 L1637.2 1065.0 L1639.2 1065.3 L1641.2 1065.7 L1643.2 1066.0 L1645.2 1066.4 L1647.2 1066.8 L1649.2 1067.1 L1651.2 1067.5 L1653.2 1067.8 L1655.2 1068.2 L1657.2 1068.6 L1659.2 1069.0 L1661.2 1069.3 L1663.2 1069.7 L1665.2 1070.1 L1667.2 1070.5 L1669.2 1070.9 L1671.2 1071.3 L1673.2 1071.7 L1675.2 1072.1 L1677.2 1072.5 L1679.2 1072.9 L1681.2 1073.3 L1683.2 1073.7 L1685.2 1074.1 L1687.2 1074.5 L1689.2 1074.9 L1691.2 1075.3 L1693.2 1075.7 L1695.2 1076.1 L1697.1 1076.5 L1699.1 1077.0 L1701.1 1077.4 L1703.1 1077.8 L1705.1 1078.2 L1707.1 1078.7 L1709.1 1079.1 L1711.1 1079.5 L1713.1 1080.0 L1715.1 1080.4 L1717.1 1080.8 L1719.1 1081.3 L1721.1 1081.7 L1723.1 1082.1 L1725.1 1082.6 L1727.1 1083.0 L1729.1 1083.5 L1731.1 1083.9 L1733.1 1084.4 L1735.1 1084.8 L1737.1 1085.3 L1739.1 1085.7 L1741.1 1086.2 L1743.1 1086.6 L1745.1 1087.1 L1747.1 1087.6 L1749.1 1088.0 L1751.1 1088.5 L1753.1 1088.9 L1755.1 1089.4 L1757.1 1089.9 L1759.1 1090.3 L1761.1 1090.8 L1763.1 1091.3 L1765.1 1091.8 L1767.1 1092.2 L1769.1 1092.7 L1771.1 1093.2 L1773.1 1093.7 L1775.1 1094.1 L1777.1 1094.6 L1779.1 1095.1 L1781.1 1095.6 L1783.1 1096.1 L1785.1 1096.5 L1787.1 1097.0 L1789.1 1097.5 L1791.1 1098.0 L1793.1 1098.5 L1795.1 1099.0 L1797.1 1099.5 L1799.1 1099.9 L1801.1 1100.4 L1803.1 1100.9 L1805.1 1101.4 L1807.1 1101.9 L1809.1 1102.4 L1811.1 1102.9 L1813.1 1103.4 L1815.1 1103.9 L1817.1 1104.4 L1819.1 1104.9 L1821.1 1105.4 L1823.1 1105.9 L1825.1 1106.4 L1827.1 1106.9 L1829.0 1107.4 L1831.0 1107.9 L1833.0 1108.4 L1835.0 1108.9 L1837.0 1109.4 L1839.0 1109.9 L1841.0 1110.4 L1843.0 1110.9 L1845.0 1111.4 L1847.0 1112.0 L1849.0 1112.5 L1851.0 1113.0 L1853.0 1113.5 L1855.0 1114.0 L1857.0 1114.5 L1859.0 1115.0 L1861.0 1115.5 L1863.0 1116.0 L1865.0 1116.5 L1867.0 1117.1 L1869.0 1117.6 L1871.0 1118.1 L1873.0 1118.6 L1875.0 1119.1 L1877.0 1119.6 L1879.0 1120.1 L1881.0 1120.7 L1883.0 1121.2 L1885.0 1121.7 L1887.0 1122.2 L1889.0 1122.7 L1891.0 1123.2 L1893.0 1123.7 L1895.0 1124.3"/>
<path stroke="#8000ff" stroke-width="6.00" d="M1019.0 1235.8 L1021.0 1235.8 L1023.0 1235.6 L1025.0 1235.4 L1027.0 1235.2 L1029.0 1235.0 L1031.0 1234.8 L1033.0 1234.5 L1035.0 1234.3 L1037.0 1234.1 L1039.0 1233.9 L1041.0 1233.7 L1043.0 1233.4 L1045.0 1233.2 L1047.0 1233.0 L1049.0 1232.7 L1051.0 1232.5 L1053.0 1232.2 L1055.0 1232.0 L1057.0 1231.7 L1059.0 1231.5 L1061.0 1231.2 L1063.0 1231.0 L1065.0 1230.7 L1067.0 1230.4 L1069.0 1230.2 L1071.0 1229.9 L1073.0 1229.6 L1075.0 1229.3 L1077.0 1229.0 L1079.0 1228.8 L1081.0 1228.5 L1083.0 1228.2 L1085.0 1227.9 L1087.0 1227.6 L1089.0 1227.3 L1091.0 1226.9 L1093.0 1226.6 L1095.0 1226.3 L1097.0 1226.0 L1099.0 1225.6 L1101.0 1225.3 L1103.0 1225.0 L1105.0 1224.6 L1107.0 1224.3 L1109.0 1223.9 L1111.0 1223.5 L1113.0 1223.2 L1115.0 1222.8 L1117.0 1222.4 L1119.0 1222.1 L1121.0 1221.7 L1123.0 1221.3 L1125.0 1220.9 L1127.0 1220.5 L1129.0 1220.1 L1131.0 1219.7 L1133.0 1219.3 L1135.0 1218.8 L1137.0 1218.4 L1139.0 1218.0 L1141.0 1217.5 L1143.0 1217.1 L1145.0 1216.6 L1147.0 1216.2 L1149.0 1215.7 L1151.0 1215.3 L1153.0 1214.8 L1155.0 1214.3 L1157.0 1213.9 L1159.0 1213.4 L1161.0 1212.9 L1163.0 1212.4 L1165.0 1211.9 L1167.0 1211.4 L1169.0 1210.9 L1171.0 1210.4 L1173.0 1209.9 L1175.0 1209.4 L1177.0 1208.9 L1179.0 1208.4 L1181.0 1207.8 L1183.0 1207.3 L1185.0 1206.8 L1187.0 1206.2 L1189.0 1205.7 L1191.0 1205.2 L1193.0 1204.6 L1195.0 1204.1 L1197.0 1203.5 L1199.0 1203.0 L1201.0 1202.4 L1203.0 1201.8 L1205.0 1201.3 L1207.0 1200.7 L1209.0 1200.1 L1211.0 1199.6 L1213.0 1199.0 L1215.0 1198.4 L1217.0 1197.8 L1219.0 1197.3 L1221.0 1196.7 L1223.0 1196.1 L1225.0 1195.5 L1227.0 1194.9 L1229.0 1194.3 L1231.0 1193.7 L1233.0 1193.1 L1235.0 1192.5 L1237.0 1191.9 L1239.0 1191.3 L1241.0 1190.7 L1243.0 1190.1 L1245.0 1189.5 L1247.0 1188.9 L1249.0 1188.2 L1251.0 1187.6 L1253.0 1187.0 L1255.0 1186.4 L1257.0 1185.8 L1259.0 1185.2 L1261.0 1184.6 L1263.0 1183.9 L1265.0 1183.3 L1267.0 1182.7 L1269.0 1182.1 L1271.0 1181.5 L1273.0 1180.9 L1275.0 1180.2 L1277.0 1179.6 L1279.0 1179.0 L1281.0 1178.4 L1283.0 1177.8 L1285.0 1177.2 L1287.0 1176.6 L1289.0 1176.0 L1291.0 1175.4 L1293.0 1174.8 L1295.0 1174.2 L1297.0 1173.6 L1299.0 1173.0 L1301.0 1172.4 L1303.0 1171.8 L1305.0 1171.2 L1307.0 1170.6 L1309.0 1170.0 L1311.0 1169.5 L1313.0 1168.9 L1315.0 1168.3 L1317.0 1167.7 L1319.0 1167.2 L1321.0 1166.6 L1323.0 1166.1 L1325.0 1165.5 L1327.0 1165.0 L1329.0 1164.4 L1331.0 1163.9 L1333.0 1163.4 L1335.0 1162.8 L1337.0 1162.3 L1339.0 1161.8 L1341.0 1161.3 L1343.0 1160.8 L1345.0 1160.3 L1347.0 1159.8 L1349.0 1159.3 L1351.0 1158.8 L1353.0 1158.4 L1355.0 1157.9 L1357.0 1157.4 L1359.0 1157.0 L1361.0 1156.5 L1363.0 1156.1 L1365.0 1155.7 L1367.0 1155.2 L1369.0 1154.8 L1371.0 1154.4 L1373.0 1154.0 L1375.0 1153.6 L1377.0 1153.2 L1379.0 1152.8 L1381.0 1152.4 L1383.0 1152.0 L1385.0 1151.6 L1387.0 1151.3 L1389.0 1150.9 L1391.0 1150.6 L1393.0 1150.2 L1395.0 1149.9 L1397.0 1149.5 L1399.0 1149.2 L1401.0 1148.9 L1403.0 1148.6 L1405.0 1148.3 L1407.0 1147.9 L1409.0 1147.7 L1411.0 1147.4 L1413.0 1147.1 L1415.0 1146.8 L1417.0 1146.5 L1419.0 1146.3 L1421.0 1146.0 L1423.0 1145.8 L1425.0 1145.5 L1427.0 1145.3 L1429.0 1145.0 L1431.0 1144.8 L1433.0 1144.6 L1435.0 1144.4 L1437.0 1144.2 L1439.0 1144.0 L1441.0 1143.8 L1443.0 1143.6 L1445.0 1143.4 L1447.0 1143.2 L1449.0 1143.1 L1451.0 1142.9 L1453.0 1142.7 L1455.0 1142.6 L1457.0 1142.5 L1459.0 1142.3 L1461.0 1142.2 L1463.0 1142.1 L1465.0 1142.0 L1467.0 1141.9 L1469.0 1141.7 L1471.0 1141.7 L1473.0 1141.6 L1475.0 1141.5 L1477.0 1141.4 L1479.0 1141.3 L1481.0 1141.3 L1483.0 1141.2 L1485.0 1141.1 L1487.0 1141.1 L1489.0 1141.0 L1491.0 1141.0 L1493.0 1141.0 L1495.0 1140.9 L1497.0 1140.9 L1499.0 1140.9 L1501.0 1140.9 L1503.0 1140.9 L1505.0 1140.9 L1507.0 1140.9 L1509.0 1140.9 L1511.0 1140.9 L1513.0 1140.9 L1515.0 1140.9 L1517.0 1140.9 L1519.0 1141.0 L1521.0 1141.0 L1523.0 1141.0 L1525.0 1141.1 L1527.0 1141.1 L1529.0 1141.2 L1531.0 1141.2 L1533.0 1141.3 L1535.0 1141.3 L1537.0 1141.4 L1539.0 1141.5 L1541.0 1141.5 L1543.0 1141.6 L1545.0 1141.7 L1547.0 1141.8 L1549.0 1141.8 L1551.0 1141.9 L1553.0 1142.0 L1555.0 1142.1 L1557.0 1142.2 L1559.0 1142.3 L1561.0 1142.4 L1563.0 1142.5 L1565.0 1142.6 L1567.0 1142.7 L1569.0 1142.8 L1571.0 1142.9 L1573.0 1143.0 L1575.0 1143.1 L1577.0 1143.3 L1579.0 1143.4 L1581.0 1143.5 L1583.0 1143.6 L1585.0 1143.7 L1587.0 1143.9 L1589.0 1144.0 L1591.0 1144.1 L1593.0 1144.3 L1595.0 1144.4 L1597.0 1144.5 L1599.0 1144.7 L1601.0 1144.8 L1603.0 1145.0 L1605.0 1145.1 L1607.0 1145.2 L1609.0 1145.4 L1611.0 1145.5 L1613.0 1145.7 L1615.0 1145.8 L1617.0 1146.0 L1619.0 1146.1 L1621.0 1146.3 L1623.0 1146.4 L1625.0 1146.6 L1627.0 1146.8 L1629.0 1146.9 L1631.0 1147.1 L1633.0 1147.2 L1635.0 1147.4 L1637.0 1147.5 L1639.0 1147.7 L1641.0 1147.9 L1643.0 1148.0 L1645.0 1148.2 L1647.0 1148.4 L1649.0 1148.5 L1651.0 1148.7 L1653.0 1148.9 L1655.0 1149.0 L1657.0 1149.2 L1659.0 1149.4 L1661.0 1149.5 L1663.0 1149.7 L1665.0 1149.9 L1667.0 1150.0 L1669.0 1150.2 L1671.0 1150.4 L1673.0 1150.6 L1675.0 1150.7 L1677.0 1150.9 L1679.0 1151.1 L1681.0 1151.2 L1683.0 1151.4 L1685.0 1151.6 L1687.0 1151.8 L1689.0 1151.9 L1691.0 1152.1 L1693.0 1152.3 L1695.0 1152.4 L1697.0 1152.6 L1699.0 1152.8 L1701.0 1153.0 L1703.0 1153.1 L1705.0 1153.3 L1707.0 1153.5 L1709.0 1153.7 L1711.0 1153.8 L1713.0 1154.0 L1715.0 1154.2 L1717.0 1154.4 L1719.0 1154.6 L1721.0 1154.7 L1723.0 1154.9 L1725.0 1155.1 L1727.0 1155.3 L1729.0 1155.5 L1731.0 1155.7 L1733.0 1155.9 L1735.0 1156.1 L1737.0 1156.3 L1739.0 1156.5 L1741.0 1156.7 L1743.0 1156.9 L1745.0 1157.1 L1747.0 1157.3 L1749.0 1157.5 L1751.0 1157.7 L1753.0 1157.9 L1755.0 1158.1 L1757.0 1158.3 L1759.0 1158.5 L1761.0 1158.7 L1763.0 1158.9 L1765.0 1159.2 L1767.0 1159.4 L1769.0 1159.6 L1771.0 1159.8 L1773.0 1160.1 L1775.0 1160.3 L1777.0 1160.5 L1779.0 1160.8 L1781.0 1161.0 L1783.0 1161.3 L1785.0 1161.5 L1787.0 1161.8 L1789.0 1162.0 L1791.0 1162.3 L1793.0 1162.5 L1795.0 1162.8 L1797.0 1163.0 L1799.0 1163.3 L1801.0 1163.6 L1803.0 1163.8 L1805.0 1164.1 L1807.0 1164.4 L1809.0 1164.7 L1811.0 1164.9 L1813.0 1165.2 L1815.0 1165.5 L1817.0 1165.8 L1819.0 1166.1 L1821.0 1166.4 L1823.0 1166.7 L1825.0 1167.0 L1827.0 1167.3 L1829.0 1167.5 L1831.0 1167.8 L1833.0 1168.1 L1835.0 1168.4 L1837.0 1168.8 L1839.0 1169.1 L1841.0 1169.4 L1843.0 1169.7 L1845.0 1170.0 L1847.0 1170.3 L1849.0 1170.6 L1851.0 1170.9 L1853.0 1171.2 L1855.0 1171.5 L1857.0 1171.9 L1859.0 1172.2 L1861.0 1172.5 L1863.0 1172.8 L1865.0 1173.1 L1867.0 1173.5 L1869.0 1173.8 L1871.0 1174.1 L1873.0 1174.4 L1875.0 1174.7 L1877.0 1175.1 L1879.0 1175.4 L1881.0 1175.7 L1883.0 1176.0 L1885.0 1176.4 L1887.0 1176.7 L1889.0 1177.0 L1891.0 1177.3 L1893.0 1177.7 L1895.0 1178.0"/>
</g>
<text transform="translate(0 80.80) scale(0.9550 1.0000)" font-size="102.50"><tspan x="184.71">1</tspan></text>
<text transform="translate(0 317.19) scale(0.9550 1.0000)" font-size="102.50"><tspan x="107.54" letter-spacing="0.73">0.8</tspan></text>
<text transform="translate(0 553.58) scale(0.9550 1.0000)" font-size="102.50"><tspan x="107.96" letter-spacing="0.52">0.6</tspan></text>
<text transform="translate(0 789.97) scale(0.9550 1.0000)" font-size="102.50"><tspan x="107.96">0.4</tspan></text>
<text transform="translate(0 1026.36) scale(0.9550 1.0000)" font-size="102.50"><tspan x="107.54" letter-spacing="1.88">0.2</tspan></text>
<text transform="translate(0 1262.75) scale(0.9550 1.0000)" font-size="102.50"><tspan x="186.70">0</tspan></text>
<text transform="translate(0 1325.40) scale(0.9550 1.0000)" font-size="102.50"><tspan x="171.73" letter-spacing="1.88">500</tspan></text>
<text transform="translate(0 1325.40) scale(0.9550 1.0000)" font-size="102.50"><tspan x="620.47" letter-spacing="0.52">1000</tspan></text>
<text transform="translate(0 1325.80) scale(0.9550 1.0000)" font-size="102.50"><tspan x="1711.41" letter-spacing="1.82">5000</tspan></text>
<text transform="translate(0 1318.80) scale(0.9550 1.0000)" font-size="102.50"><tspan x="1983.51" letter-spacing="1.64">6400</tspan></text>
<text transform="translate(0 1424.80) scale(0.9550 1.0000)" font-size="102.50"><tspan x="786.39" letter-spacing="1.39">Frequency </tspan><tspan x="1260.26" letter-spacing="-0.87">[Hz]</tspan></text>
<text transform="translate(99.00 1097.30) rotate(-90) scale(1.0250 0.9800)" font-size="100.00"><tspan x="0.00" letter-spacing="-0.99">Absorption </tspan><tspan x="463.71" letter-spacing="-0.01">coefficient</tspan></text>
<text transform="translate(0 1531.50) scale(0.9550 1.0000)" font-size="68.00"><tspan x="250.73" letter-spacing="-0.31">Measured </tspan><tspan x="535.13" letter-spacing="-3.01">value</tspan></text>
<text transform="translate(0 1598.17) scale(0.9550 1.0000)" font-size="68.00"><tspan x="250.63" letter-spacing="-0.62">Predicted </tspan><tspan x="522.09" letter-spacing="-3.14">value </tspan><tspan x="674.55" letter-spacing="-2.93">(flow </tspan><tspan x="827.02" letter-spacing="-2.51">resistivity </tspan><tspan x="1084.45" letter-spacing="0.62">5.26E+06)</tspan></text>
<text transform="translate(0 1664.84) scale(0.9550 1.0000)" font-size="68.00"><tspan x="250.63" letter-spacing="-0.62">Predicted </tspan><tspan x="522.09" letter-spacing="-3.14">value </tspan><tspan x="674.55" letter-spacing="-2.93">(flow </tspan><tspan x="827.02" letter-spacing="-2.51">resistivity </tspan><tspan x="1084.50" letter-spacing="0.58">6.40E+06)</tspan></text>
<text transform="translate(0 1731.51) scale(0.9550 1.0000)" font-size="68.00"><tspan x="250.63" letter-spacing="-0.62">Predicted </tspan><tspan x="522.09" letter-spacing="-3.14">value </tspan><tspan x="674.55" letter-spacing="-2.93">(flow </tspan><tspan x="827.02" letter-spacing="-2.51">resistivity </tspan><tspan x="1086.81" letter-spacing="0.29">12.8E+06)</tspan></text>
<text transform="translate(0 1798.18) scale(0.9550 1.0000)" font-size="68.00"><tspan x="250.63" letter-spacing="-0.62">Predicted </tspan><tspan x="522.09" letter-spacing="-3.14">value </tspan><tspan x="674.55" letter-spacing="-2.93">(flow </tspan><tspan x="827.02" letter-spacing="-2.51">resistivity </tspan><tspan x="1084.29" letter-spacing="0.60">25.6E+06)</tspan></text>
<text transform="translate(0 1864.85) scale(0.9550 1.0000)" font-size="68.00"><tspan x="250.63" letter-spacing="-0.62">Predicted </tspan><tspan x="522.09" letter-spacing="-3.14">value </tspan><tspan x="674.55" letter-spacing="-2.93">(flow </tspan><tspan x="827.02" letter-spacing="-2.51">resistivity </tspan><tspan x="1084.45" letter-spacing="0.62">51.2E+06)</tspan></text>
<text transform="translate(0 1931.52) scale(0.9550 1.0000)" font-size="68.00"><tspan x="250.63" letter-spacing="-0.62">Predicted </tspan><tspan x="522.09" letter-spacing="-3.14">value </tspan><tspan x="674.55" letter-spacing="-2.93">(flow </tspan><tspan x="827.02" letter-spacing="-2.51">resistivity </tspan><tspan x="1087.23" letter-spacing="0.30">102.4E+06)</tspan></text>
<text transform="translate(0 1998.19) scale(0.9550 1.0000)" font-size="68.00"><tspan x="250.63" letter-spacing="-0.62">Predicted </tspan><tspan x="522.09" letter-spacing="-3.14">value </tspan><tspan x="674.55" letter-spacing="-2.93">(flow </tspan><tspan x="827.02" letter-spacing="-2.51">resistivity </tspan><tspan x="1083.14" letter-spacing="0.81">204.8E+06)</tspan></text>
<text transform="translate(0 2169.00) scale(1.0000 1.0000)" font-size="85.50"><tspan x="958.80">(</tspan><tspan x="986.45" font-size="89.00" font-weight="bold">b</tspan><tspan x="1035.00">)</tspan></text>
<g class="c">
<path stroke="#000" stroke-width="6.50" d="M663.50 1505.60H796.00"/>
<path stroke="#000" stroke-width="6.50" stroke-dasharray="17.2 18.5" stroke-linecap="round" d="M1403.00 1572.40H1528.00"/>
<path stroke="#0000ff" stroke-width="6.50" d="M1393.50 1640.00H1528.00"/>
<path stroke="#ff0000" stroke-width="6.50" d="M1393.50 1706.00H1528.00"/>
<path stroke="#00ff00" stroke-width="6.50" d="M1393.50 1773.10H1528.00"/>
<path stroke="#ff8000" stroke-width="6.50" d="M1393.50 1839.60H1528.00"/>
<path stroke="#00ffff" stroke-width="6.50" d="M1427.00 1906.30H1561.50"/>
<path stroke="#8000ff" stroke-width="6.50" d="M1427.00 1973.10H1561.50"/>
</g>
</svg></body></html>
